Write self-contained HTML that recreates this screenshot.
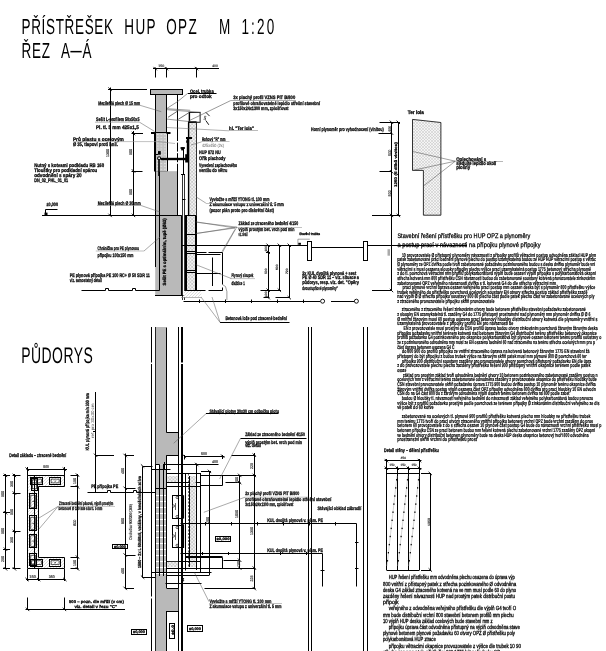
<!DOCTYPE html>
<html><head><meta charset="utf-8"><style>
html,body{margin:0;padding:0;background:#fff;}
svg{display:block;will-change:transform;font-family:"Liberation Sans",sans-serif;-webkit-font-smoothing:antialiased;}
text{text-rendering:geometricPrecision;}
</style></head><body>
<svg width="606" height="651" viewBox="0 0 606 651">
<defs>
<pattern id="xh" width="3.4" height="3.4" patternUnits="userSpaceOnUse">
<rect width="3.4" height="3.4" fill="#f3f3f3"/>
<path d="M0,0 L3.4,3.4 M3.4,0 L0,3.4" stroke="#bcbcbc" stroke-width="0.6"/>
</pattern>
<pattern id="xh2" width="3" height="3" patternUnits="userSpaceOnUse">
<rect width="3" height="3" fill="#f4f4f4"/>
<path d="M0,0 L3,3 M3,0 L0,3" stroke="#c4c4c4" stroke-width="0.5"/>
</pattern>
<pattern id="dh" width="3" height="3" patternUnits="userSpaceOnUse">
<rect width="3" height="3" fill="#fff"/>
<path d="M0,3 L3,0" stroke="#bbb" stroke-width="0.5"/>
</pattern>
<pattern id="dots" width="3.6" height="2.9" patternUnits="userSpaceOnUse" x="156" y="133">
<rect width="3.6" height="2.9" fill="#c2c2c2"/>
<rect x="1.2" y="1" width="1.1" height="1" fill="#f4f4f4"/>
</pattern>
</defs>
<text transform="translate(21.5,34.4) scale(0.62,1)" x="0" y="0" font-size="21.8" textLength="147.58" lengthAdjust="spacing">PŘÍSTŘEŠEK</text>
<text transform="translate(124.3,34.4) scale(0.62,1)" x="0" y="0" font-size="21.8" textLength="50.32" lengthAdjust="spacing">HUP</text>
<text transform="translate(166.2,34.4) scale(0.62,1)" x="0" y="0" font-size="21.8" textLength="49.35" lengthAdjust="spacing">OPZ</text>
<text transform="translate(219,34.4) scale(0.62,1)" x="0" y="0" font-size="21.8" textLength="15.48" lengthAdjust="spacing">M</text>
<text transform="translate(241.4,34.4) scale(0.62,1)" x="0" y="0" font-size="21.8" textLength="53.06" lengthAdjust="spacing">1:20</text>
<text transform="translate(21.5,58.2) scale(0.62,1)" x="0" y="0" font-size="21.8" textLength="45.97" lengthAdjust="spacing">ŘEZ</text>
<text transform="translate(60.9,58.2) scale(0.62,1)" x="0" y="0" font-size="21.8" textLength="15.16" lengthAdjust="spacing">A</text>
<text transform="translate(82.6,58.2) scale(0.62,1)" x="0" y="0" font-size="21.8" textLength="15.16" lengthAdjust="spacing">Á</text>
<rect x="70.4" y="50.9" width="11.3" height="1.5" fill="#000"/>
<text transform="translate(21.2,362.7) scale(0.62,1)" x="0" y="0" font-size="22.5" textLength="115.48" lengthAdjust="spacing">PŮDORYS</text>
<line x1="153.0" y1="68.5" x2="219.0" y2="68.5" stroke="#000" stroke-width="1" />
<line x1="155.5" y1="67.5" x2="155.5" y2="77.5" stroke="#000" stroke-width="1" />
<line x1="153.5" y1="66.89999999999999" x2="156.89999999999998" y2="70.3" stroke="#000" stroke-width="0.9" />
<line x1="166.5" y1="67.5" x2="166.5" y2="77.5" stroke="#000" stroke-width="1" />
<line x1="164.70000000000002" y1="66.89999999999999" x2="168.1" y2="70.3" stroke="#000" stroke-width="0.9" />
<line x1="196.5" y1="67.5" x2="196.5" y2="77.5" stroke="#000" stroke-width="1" />
<line x1="194.8" y1="66.89999999999999" x2="198.2" y2="70.3" stroke="#000" stroke-width="0.9" />
<text x="158.3" y="67.2" font-size="3.6" textLength="5.9" lengthAdjust="spacingAndGlyphs" fill="#333"  stroke="#333" stroke-width="0.18">150</text>
<text x="212.3" y="67.2" font-size="3.6" textLength="5.4" lengthAdjust="spacingAndGlyphs" fill="#333"  stroke="#333" stroke-width="0.18">400</text>
<line x1="110.5" y1="87.5" x2="110.5" y2="215.5" stroke="#000" stroke-width="1" />
<line x1="108.0" y1="89.5" x2="147.0" y2="89.5" stroke="#000" stroke-width="1" />
<line x1="108.39999999999999" y1="87.5" x2="111.8" y2="90.9" stroke="#000" stroke-width="0.9" />
<line x1="108.39999999999999" y1="213.70000000000002" x2="111.8" y2="217.1" stroke="#000" stroke-width="0.9" />
<text x="109" y="157" font-size="3.8" textLength="8" lengthAdjust="spacingAndGlyphs" transform="rotate(-90 109 157)" fill="#333"  stroke="#333" stroke-width="0.18">1300</text>
<line x1="133.5" y1="131.0" x2="133.5" y2="215.5" stroke="#000" stroke-width="1" />
<line x1="131.5" y1="133.5" x2="143.0" y2="133.5" stroke="#000" stroke-width="1" />
<line x1="131.5" y1="171.5" x2="142.5" y2="171.5" stroke="#000" stroke-width="1" />
<line x1="131.8" y1="131.8" x2="135.2" y2="135.2" stroke="#000" stroke-width="0.9" />
<line x1="131.8" y1="169.3" x2="135.2" y2="172.7" stroke="#000" stroke-width="0.9" />
<line x1="131.8" y1="213.70000000000002" x2="135.2" y2="217.1" stroke="#000" stroke-width="0.9" />
<text x="132" y="155" font-size="3.8" textLength="6" lengthAdjust="spacingAndGlyphs" transform="rotate(-90 132 155)" fill="#333"  stroke="#333" stroke-width="0.18">500</text>
<text x="132" y="195" font-size="3.8" textLength="6" lengthAdjust="spacingAndGlyphs" transform="rotate(-90 132 195)" fill="#333"  stroke="#333" stroke-width="0.18">500</text>
<line x1="42.0" y1="215.5" x2="181.5" y2="215.5" stroke="#000" stroke-width="1" />
<polyline points="45.5,214.5 45.5,209.5 57.5,209.5" fill="none" stroke="#000" stroke-width="1" />
<text x="46.5" y="205.6" font-size="5.0" textLength="11.5" lengthAdjust="spacingAndGlyphs" font-weight="bold" fill="#000"  stroke="#000" stroke-width="0.26">±0,000</text>
<rect x="44.5" y="212.6" width="3.0" height="2.4000000000000057" fill="#000"/>
<rect x="150.5" y="89.5" width="32.0" height="5.0" fill="#b9b9b9" stroke="#000" stroke-width="1" />
<rect x="155.5" y="94.5" width="11.0" height="38.0" fill="#b9b9b9" stroke="#000" stroke-width="1" />
<line x1="151.0" y1="133" x2="170.5" y2="133" stroke="#000" stroke-width="2" />
<rect x="156" y="133" width="10.5" height="38" fill="url(#dots)"/>
<rect x="155.5" y="132.5" width="12.0" height="39.0" fill="none" stroke="#000" stroke-width="1" />
<line x1="155" y1="132.5" x2="155" y2="171.5" stroke="#000" stroke-width="2" />
<rect x="155.5" y="171.2" width="22.099999999999994" height="44.20000000000002" fill="#b9b9b9"/>
<rect x="155.2" y="215.4" width="25.80000000000001" height="80.1" fill="#b9b9b9"/>
<line x1="155.5" y1="171.0" x2="155.5" y2="267.0" stroke="#000" stroke-width="1" />
<line x1="155.5" y1="215.5" x2="181.5" y2="215.5" stroke="#000" stroke-width="1" />
<line x1="181.5" y1="215.5" x2="181.5" y2="295.5" stroke="#000" stroke-width="1" />
<line x1="177.5" y1="94.5" x2="177.5" y2="132.0" stroke="#000" stroke-width="1" />
<line x1="177.5" y1="132.0" x2="177.5" y2="171.0" stroke="#000" stroke-width="1" stroke-dasharray="9,1.6"/>
<line x1="177.5" y1="171.0" x2="177.5" y2="215.5" stroke="#000" stroke-width="1" />
<line x1="159.5" y1="172.0" x2="159.5" y2="290.5" stroke="#000" stroke-width="1" />
<line x1="161.0" y1="159" x2="191.5" y2="159" stroke="#000" stroke-width="2.4" />
<rect x="158" y="151.1" width="2.8000000000000114" height="3.5999999999999943" fill="#000"/>
<line x1="156.0" y1="154.5" x2="158.0" y2="154.5" stroke="#000" stroke-width="1" />
<line x1="159" y1="158.5" x2="159" y2="176.0" stroke="#000" stroke-width="1.6" />
<circle cx="159.1" cy="158.3" r="1.5" fill="#fff" stroke="#000" stroke-width="1.1"/>
<line x1="182.0" y1="199.5" x2="185.5" y2="199.5" stroke="#000" stroke-width="1" />
<rect x="188.8" y="122.4" width="7.6" height="93" fill="url(#xh)" stroke="#000" stroke-width="0.8" />
<line x1="188.5" y1="122.5" x2="188.5" y2="215.5" stroke="#000" stroke-width="1.2" />
<line x1="188.0" y1="122" x2="196.5" y2="122" stroke="#000" stroke-width="1.6" />
<rect x="185.2" y="154.2" width="3.1000000000000227" height="8.300000000000011" fill="#000"/>
<line x1="187.5" y1="137.5" x2="187.5" y2="158.0" stroke="#000" stroke-width="1.4" />
<line x1="186.0" y1="138" x2="192.0" y2="138" stroke="#000" stroke-width="2" />
<rect x="186.2" y="140.4" width="1.4000000000000057" height="2.4000000000000057" fill="#000"/>
<line x1="180.5" y1="148" x2="185.0" y2="148" stroke="#000" stroke-width="1.6" />
<rect x="181.2" y="147.3" width="2.8000000000000114" height="3.0999999999999943" fill="#000"/>
<line x1="183.5" y1="148.0" x2="183.5" y2="175.0" stroke="#000" stroke-width="1" />
<line x1="181.0" y1="174.5" x2="185.0" y2="174.5" stroke="#000" stroke-width="1" />
<rect x="189.2" y="112.4" width="10.9" height="9.9" fill="none" stroke="#000" stroke-width="0.9" />
<line x1="189.5" y1="112.5" x2="189.5" y2="122.5" stroke="#000" stroke-width="1.2" />
<line x1="167.1" y1="109.7" x2="201" y2="112.4" stroke="#555" stroke-width="0.6" />
<line x1="167.1" y1="108.7" x2="190.2" y2="110.3" stroke="#555" stroke-width="0.6" />
<line x1="167.1" y1="119.1" x2="189.4" y2="121.6" stroke="#555" stroke-width="0.6" />
<line x1="189.4" y1="121.6" x2="200.1" y2="122.3" stroke="#555" stroke-width="0.6" />
<line x1="168" y1="117.3" x2="177.4" y2="111.2" stroke="#333" stroke-width="0.7" />
<line x1="178.3" y1="119.3" x2="189.4" y2="112.4" stroke="#333" stroke-width="0.7" />
<line x1="167.1" y1="108.3" x2="177.4" y2="101.7" stroke="#555" stroke-width="0.6" />
<line x1="177.4" y1="101.7" x2="187.9" y2="93.2" stroke="#555" stroke-width="0.6" />
<line x1="189.5" y1="120.5" x2="230.8" y2="100.5" stroke="#555" stroke-width="0.6" />
<line x1="205.9" y1="112.4" x2="209.6" y2="116.1" stroke="#000" stroke-width="0.9" />
<line x1="205.9" y1="120.6" x2="208.8" y2="124.8" stroke="#000" stroke-width="0.9" />
<text x="205.5" y="120.5" font-size="2.8" textLength="4.5" lengthAdjust="spacingAndGlyphs" transform="rotate(-80 205.5 120.5)" fill="#555"  stroke="#333" stroke-width="0.18">120</text>
<line x1="188.0" y1="93.5" x2="216.5" y2="93.5" stroke="#000" stroke-width="1" />
<text x="189.9" y="92.7" font-size="5.0" textLength="23.8" lengthAdjust="spacingAndGlyphs" font-weight="bold" fill="#000"  stroke="#000" stroke-width="0.26">Ocel. trubka</text>
<text x="189.9" y="98.4" font-size="5.0" textLength="21.8" lengthAdjust="spacingAndGlyphs" font-weight="bold" fill="#000"  stroke="#000" stroke-width="0.26">pro odtok</text>
<text x="98.2" y="104.6" font-size="5.2" textLength="42" lengthAdjust="spacingAndGlyphs" font-weight="bold" fill="#000"  stroke="#000" stroke-width="0.26">Mezilehlá plech Ø 15 mm</text>
<line x1="98" y1="105.3" x2="140" y2="105.3" stroke="#888" stroke-width="0.6" />
<line x1="140" y1="105.3" x2="161.3" y2="111.7" stroke="#555" stroke-width="0.5" />
<text x="96" y="120.6" font-size="5.2" textLength="43.5" lengthAdjust="spacingAndGlyphs" font-weight="bold" fill="#000"  stroke="#000" stroke-width="0.26">Sešit L-profilem 50x50x5</text>
<line x1="95" y1="122.2" x2="139.5" y2="122.2" stroke="#888" stroke-width="0.6" />
<line x1="139.5" y1="122.2" x2="154.7" y2="131.5" stroke="#555" stroke-width="0.5" />
<text x="96" y="128.6" font-size="5.2" textLength="42.8" lengthAdjust="spacingAndGlyphs" font-weight="bold" fill="#000"  stroke="#000" stroke-width="0.26">Pl. tl. 5 mm 425x1,5</text>
<text x="72.9" y="140.9" font-size="5.2" textLength="51" lengthAdjust="spacingAndGlyphs" font-weight="bold" fill="#000"  stroke="#000" stroke-width="0.26">Prů plastu s ocelovým</text>
<text x="72.9" y="145.6" font-size="5.2" textLength="45" lengthAdjust="spacingAndGlyphs" font-weight="bold" fill="#000"  stroke="#000" stroke-width="0.26">Ø 35, tlapoví proti hnil.</text>
<line x1="72.9" y1="141.6" x2="158" y2="141.6" stroke="#999" stroke-width="0.6" />
<line x1="158" y1="141.6" x2="175" y2="143.5" stroke="#777" stroke-width="0.5" />
<text x="34.2" y="167.4" font-size="5.2" textLength="70" lengthAdjust="spacingAndGlyphs" font-weight="bold" fill="#000"  stroke="#000" stroke-width="0.26">Nutný s kotvami podkladu RB 160</text>
<text x="34.2" y="172.2" font-size="5.2" textLength="63" lengthAdjust="spacingAndGlyphs" font-weight="bold" fill="#000"  stroke="#000" stroke-width="0.26">Tlouštky pro podkladní spárou</text>
<text x="34.2" y="177.1" font-size="5.2" textLength="47.5" lengthAdjust="spacingAndGlyphs" font-weight="bold" fill="#000"  stroke="#000" stroke-width="0.26">odvodnění s spáry 20</text>
<text x="34.2" y="182.0" font-size="5.2" textLength="34" lengthAdjust="spacingAndGlyphs" font-weight="bold" fill="#000"  stroke="#000" stroke-width="0.26">DN_02_PHL_01_01</text>
<text x="97.8" y="204.6" font-size="5.2" textLength="43" lengthAdjust="spacingAndGlyphs" font-weight="bold" fill="#000"  stroke="#000" stroke-width="0.26">Mezilehlá plech Ø 30 mm</text>
<line x1="97" y1="205.5" x2="141" y2="205.5" stroke="#888" stroke-width="0.6" />
<line x1="141" y1="205.5" x2="160" y2="212" stroke="#555" stroke-width="0.5" />
<text x="233.3" y="98.9" font-size="5.0" textLength="61.9" lengthAdjust="spacingAndGlyphs" font-weight="bold" fill="#000"  stroke="#000" stroke-width="0.26">3x plachý profil VZNS PIT B/800</text>
<text x="233.3" y="104.8" font-size="5.0" textLength="86.7" lengthAdjust="spacingAndGlyphs" font-weight="bold" fill="#000"  stroke="#000" stroke-width="0.26">profilové ohraňovatelné lepidlo střešní stavební</text>
<text x="233.3" y="109.6" font-size="5.0" textLength="55.3" lengthAdjust="spacingAndGlyphs" font-weight="bold" fill="#000"  stroke="#000" stroke-width="0.26">3x150x24x1300 mm, zplošťovat</text>
<line x1="231.0" y1="100.5" x2="296.0" y2="100.5" stroke="#777" stroke-width="0.6" />
<text x="229.1" y="130.1" font-size="5.0" textLength="24.8" lengthAdjust="spacingAndGlyphs" font-weight="bold" fill="#000"  stroke="#000" stroke-width="0.26">hl. "Ter lola"</text>
<line x1="229.0" y1="130.5" x2="258.0" y2="130.5" stroke="#aaa" stroke-width="0.8" />
<line x1="229" y1="130.8" x2="167" y2="127.5" stroke="#666" stroke-width="0.5" />
<text x="201.9" y="140.7" font-size="5.2" textLength="23.6" lengthAdjust="spacingAndGlyphs" font-weight="bold" fill="#000"  stroke="#000" stroke-width="0.26">Rohový "R" mm</text>
<text x="201.9" y="146.5" font-size="4.6" textLength="22" lengthAdjust="spacingAndGlyphs" fill="#555" >425x450 (2x)</text>
<line x1="201.5" y1="141.5" x2="229.5" y2="141.5" stroke="#999" stroke-width="0.6" />
<line x1="201.6" y1="141.9" x2="191" y2="145" stroke="#555" stroke-width="0.5" />
<text x="199.1" y="153.9" font-size="5.2" textLength="21.5" lengthAdjust="spacingAndGlyphs" font-weight="bold" fill="#000"  stroke="#000" stroke-width="0.26">HUP 872 NU</text>
<text x="199.1" y="159.7" font-size="5.2" textLength="26.4" lengthAdjust="spacingAndGlyphs" font-weight="bold" fill="#000"  stroke="#000" stroke-width="0.26">Ořík plachody</text>
<text x="199.1" y="167.1" font-size="5.2" textLength="38" lengthAdjust="spacingAndGlyphs" font-weight="bold" fill="#000"  stroke="#000" stroke-width="0.26">Vyvedení zaplachového</text>
<text x="199.1" y="172.1" font-size="5.2" textLength="28.1" lengthAdjust="spacingAndGlyphs" font-weight="bold" fill="#000"  stroke="#000" stroke-width="0.26">ventilu do větru</text>
<text x="209.5" y="201.3" font-size="5.2" textLength="59.9" lengthAdjust="spacingAndGlyphs" font-weight="bold" fill="#000"  stroke="#000" stroke-width="0.26">Vyvložte s mříží YTONG tl. 100 mm</text>
<text x="209.5" y="206.4" font-size="5.2" textLength="74.4" lengthAdjust="spacingAndGlyphs" font-weight="bold" fill="#000"  stroke="#000" stroke-width="0.26">Z akumulace vstupu z univerzální tl. 5 mm</text>
<text x="209.5" y="211.9" font-size="5.2" textLength="64.5" lengthAdjust="spacingAndGlyphs" font-weight="bold" fill="#000"  stroke="#000" stroke-width="0.26">(pozor plán proto pro diskrétní část)</text>
<line x1="206.0" y1="203.5" x2="276.0" y2="203.5" stroke="#999" stroke-width="0.6" />
<line x1="205.9" y1="203.1" x2="196" y2="196.8" stroke="#555" stroke-width="0.5" />
<text x="238.6" y="225.3" font-size="5.2" textLength="59.5" lengthAdjust="spacingAndGlyphs" font-weight="bold" fill="#000"  stroke="#000" stroke-width="0.26">Základ ze ztraceného bednění 4/150</text>
<text x="238.6" y="231.3" font-size="5.2" textLength="55.9" lengthAdjust="spacingAndGlyphs" font-weight="bold" fill="#000"  stroke="#000" stroke-width="0.26">výplň prostým bet. vrch pod min</text>
<text x="238.6" y="235.8" font-size="5.2" textLength="9" lengthAdjust="spacingAndGlyphs" font-weight="bold" fill="#000"  stroke="#000" stroke-width="0.26">viz. detail</text>
<line x1="236.5" y1="227.5" x2="302.0" y2="227.5" stroke="#999" stroke-width="0.6" />
<line x1="236.7" y1="227.1" x2="196" y2="222.2" stroke="#555" stroke-width="0.5" />
<line x1="236.7" y1="227.1" x2="196" y2="233.6" stroke="#555" stroke-width="0.5" />
<line x1="236.7" y1="227.1" x2="222.5" y2="252.2" stroke="#555" stroke-width="0.5" />
<polyline points="196.5,252.5 206.5,252.5" fill="none" stroke="#000" stroke-width="1" />
<polyline points="208.5,252.5 222.5,252.5 222.5,284.5" fill="none" stroke="#000" stroke-width="1" />
<polyline points="222.5,287.5 222.5,290.5 208.5,290.5" fill="none" stroke="#000" stroke-width="1" />
<line x1="185.5" y1="290.5" x2="205.5" y2="290.5" stroke="#000" stroke-width="1" />
<line x1="189.0" y1="254.5" x2="220.5" y2="254.5" stroke="#000" stroke-width="1" />
<line x1="189.0" y1="273.5" x2="220.5" y2="273.5" stroke="#000" stroke-width="1" />
<line x1="212.5" y1="257.5" x2="212.5" y2="286.0" stroke="#000" stroke-width="1" />
<polyline points="222.7,284.7 225.5,286.5 226.9,291.6 226.9,300" fill="none" stroke="#555" stroke-width="0.6" />
<rect x="185.5" y="215.5" width="10.0" height="75.0" fill="url(#xh)" stroke="#000" stroke-width="1" />
<line x1="186" y1="215.5" x2="186" y2="290.0" stroke="#000" stroke-width="2" />
<line x1="185.5" y1="234.5" x2="197.0" y2="234.5" stroke="#000" stroke-width="1" />
<line x1="185.5" y1="245.5" x2="197.0" y2="245.5" stroke="#000" stroke-width="1" />
<line x1="185.5" y1="251.5" x2="197.0" y2="251.5" stroke="#000" stroke-width="1" />
<line x1="185.5" y1="253.5" x2="197.0" y2="253.5" stroke="#000" stroke-width="1" />
<line x1="185.5" y1="270.5" x2="197.0" y2="270.5" stroke="#000" stroke-width="1" />
<line x1="185.5" y1="272.5" x2="197.0" y2="272.5" stroke="#000" stroke-width="1" />
<line x1="182.5" y1="175.0" x2="182.5" y2="300.0" stroke="#000" stroke-width="0.8" />
<line x1="184.5" y1="175.0" x2="184.5" y2="300.0" stroke="#000" stroke-width="0.8" />
<line x1="196.5" y1="215.5" x2="196.5" y2="290.0" stroke="#000" stroke-width="1" />
<line x1="181.5" y1="245.5" x2="307.5" y2="245.5" stroke="#000" stroke-width="1" />
<line x1="311.5" y1="247.5" x2="363.0" y2="247.5" stroke="#000" stroke-width="1" />
<line x1="367.5" y1="245.5" x2="467.0" y2="245.5" stroke="#000" stroke-width="1" />
<rect x="184" y="291" width="17.30000000000001" height="6.100000000000023" fill="url(#dh)"/>
<line x1="181.0" y1="297.5" x2="201.5" y2="297.5" stroke="#888" stroke-width="0.6" />
<line x1="235" y1="228" x2="195.7" y2="221.8" stroke="#555" stroke-width="0.5" />
<line x1="235" y1="228" x2="195.7" y2="233.5" stroke="#555" stroke-width="0.5" />
<line x1="235" y1="229.4" x2="222" y2="251.5" stroke="#555" stroke-width="0.5" />
<line x1="231.5" y1="278.6" x2="195.7" y2="264.6" stroke="#555" stroke-width="0.5" />
<text x="231.5" y="277.4" font-size="5.2" textLength="21.8" lengthAdjust="spacingAndGlyphs" font-weight="bold" fill="#000"  stroke="#000" stroke-width="0.26">Plynový sloupek</text>
<text x="231.5" y="284.6" font-size="5.2" textLength="13.2" lengthAdjust="spacingAndGlyphs" font-weight="bold" fill="#000"  stroke="#000" stroke-width="0.26">dlaždice 1</text>
<line x1="230" y1="278.6" x2="255" y2="278.6" stroke="#999" stroke-width="0.6" />
<polyline points="81.5,290.5 105.5,290.5 105.5,288.5 108.5,288.5 108.5,290.5 132.5,290.5 132.5,288.5 135.5,288.5 135.5,290.5 159.5,290.5" fill="none" stroke="#000" stroke-width="1" />
<line x1="155.0" y1="295.5" x2="183.5" y2="295.5" stroke="#000" stroke-width="1" />
<text x="97.5" y="250.1" font-size="5.2" textLength="41.5" lengthAdjust="spacingAndGlyphs" font-weight="bold" fill="#000"  stroke="#000" stroke-width="0.26">Chránička pro PE plynovou</text>
<text x="97.5" y="256.9" font-size="5.2" textLength="36" lengthAdjust="spacingAndGlyphs" font-weight="bold" fill="#000"  stroke="#000" stroke-width="0.26">přípojku 100x150 mm</text>
<line x1="95.8" y1="251" x2="144" y2="251" stroke="#999" stroke-width="0.6" />
<line x1="144" y1="251" x2="160" y2="237" stroke="#555" stroke-width="0.5" />
<text x="69.8" y="276.8" font-size="5.2" textLength="80" lengthAdjust="spacingAndGlyphs" font-weight="bold" fill="#000"  stroke="#000" stroke-width="0.26">PE plynová přípojka PE 100 RC+ Ø 50 SDR 11</text>
<text x="69.8" y="282.4" font-size="5.2" textLength="32" lengthAdjust="spacingAndGlyphs" font-weight="bold" fill="#000"  stroke="#000" stroke-width="0.26">viz. samostatný detail</text>
<text x="166.2" y="285.4" font-size="4.6" textLength="67" lengthAdjust="spacingAndGlyphs" font-weight="bold" transform="rotate(-90 166.2 285.4)" fill="#000"  stroke="#000" stroke-width="0.26">Sešit PE s optimálním, tupě (Ø63)</text>
<line x1="183.5" y1="301.5" x2="320.5" y2="301.5" stroke="#000" stroke-width="1" />
<line x1="199.5" y1="299.5" x2="199.5" y2="303.0" stroke="#000" stroke-width="1" />
<line x1="225.5" y1="299.5" x2="225.5" y2="303.0" stroke="#000" stroke-width="1" />
<line x1="251.5" y1="299.5" x2="251.5" y2="303.0" stroke="#000" stroke-width="1" />
<line x1="277.5" y1="299.5" x2="277.5" y2="303.0" stroke="#000" stroke-width="1" />
<line x1="303.5" y1="299.5" x2="303.5" y2="303.0" stroke="#000" stroke-width="1" />
<circle cx="322.6" cy="301.2" r="2" fill="#fff" stroke="#000" stroke-width="0.9"/>
<line x1="331.0" y1="301.5" x2="354.5" y2="301.5" stroke="#000" stroke-width="1" />
<circle cx="356.4" cy="301.2" r="2" fill="#fff" stroke="#000" stroke-width="0.9"/>
<text x="225.4" y="319.9" font-size="5.2" textLength="61.6" lengthAdjust="spacingAndGlyphs" font-weight="bold" fill="#000"  stroke="#000" stroke-width="0.26">Betonová lože pod ztracené bednění</text>
<line x1="220.0" y1="322.5" x2="289.5" y2="322.5" stroke="#000" stroke-width="1" />
<line x1="220" y1="322.3" x2="201" y2="297" stroke="#555" stroke-width="0.5" />
<line x1="220" y1="322.3" x2="212" y2="297" stroke="#555" stroke-width="0.5" />
<line x1="268.5" y1="245.5" x2="268.5" y2="297.5" stroke="#000" stroke-width="1" />
<line x1="279.5" y1="245.5" x2="279.5" y2="290.0" stroke="#000" stroke-width="1" />
<line x1="289.5" y1="245.5" x2="289.5" y2="297.5" stroke="#000" stroke-width="1" />
<line x1="266.0" y1="252.5" x2="270.0" y2="252.5" stroke="#000" stroke-width="1" />
<line x1="260.5" y1="290.5" x2="281.0" y2="290.5" stroke="#000" stroke-width="1" />
<line x1="263.5" y1="297.5" x2="269.5" y2="297.5" stroke="#000" stroke-width="1" />
<line x1="275.5" y1="297.5" x2="290.0" y2="297.5" stroke="#000" stroke-width="1" />
<line x1="266.5" y1="243.60000000000002" x2="269.9" y2="247.0" stroke="#000" stroke-width="0.9" />
<line x1="266.5" y1="250.60000000000002" x2="269.9" y2="254.0" stroke="#000" stroke-width="0.9" />
<line x1="266.5" y1="288.5" x2="269.9" y2="291.9" stroke="#000" stroke-width="0.9" />
<line x1="266.5" y1="296.0" x2="269.9" y2="299.4" stroke="#000" stroke-width="0.9" />
<line x1="277.7" y1="243.60000000000002" x2="281.09999999999997" y2="247.0" stroke="#000" stroke-width="0.9" />
<line x1="277.7" y1="288.5" x2="281.09999999999997" y2="291.9" stroke="#000" stroke-width="0.9" />
<line x1="287.6" y1="243.60000000000002" x2="291.0" y2="247.0" stroke="#000" stroke-width="0.9" />
<line x1="287.6" y1="296.0" x2="291.0" y2="299.4" stroke="#000" stroke-width="0.9" />
<text x="267" y="251.5" font-size="3.2" textLength="5.5" lengthAdjust="spacingAndGlyphs" transform="rotate(-90 267 251.5)" fill="#333"  stroke="#333" stroke-width="0.18">100</text>
<text x="267" y="274" font-size="3.2" textLength="5.5" lengthAdjust="spacingAndGlyphs" transform="rotate(-90 267 274)" fill="#333"  stroke="#333" stroke-width="0.18">500</text>
<text x="267" y="297" font-size="3.2" textLength="5.5" lengthAdjust="spacingAndGlyphs" transform="rotate(-90 267 297)" fill="#333"  stroke="#333" stroke-width="0.18">100</text>
<text x="278" y="270" font-size="3.2" textLength="5.5" lengthAdjust="spacingAndGlyphs" transform="rotate(-90 278 270)" fill="#333"  stroke="#333" stroke-width="0.18">600</text>
<text x="288" y="274" font-size="3.2" textLength="5.5" lengthAdjust="spacingAndGlyphs" transform="rotate(-90 288 274)" fill="#333"  stroke="#333" stroke-width="0.18">720</text>
<rect x="307.5" y="241.5" width="4.0" height="19.0" fill="#fff" stroke="#000" stroke-width="1" />
<rect x="363.5" y="241.5" width="4.0" height="19.0" fill="#fff" stroke="#000" stroke-width="1" />
<text x="299.2" y="234.9" font-size="3.6" textLength="20.8" lengthAdjust="spacingAndGlyphs" font-weight="bold" fill="#000"  stroke="#000" stroke-width="0.26">Stavěcí trubka</text>
<polyline points="297.9,245 297.9,239.2 309.8,239.2" fill="none" stroke="#666" stroke-width="0.6" />
<rect x="298.3" y="242.8" width="2.599999999999966" height="2.0" fill="#000"/>
<text x="302.2" y="274.9" font-size="5.2" textLength="54" lengthAdjust="spacingAndGlyphs" font-weight="bold" fill="#000"  stroke="#000" stroke-width="0.26">2x KUL dvojitá plynová + sest</text>
<text x="302.2" y="279.4" font-size="5.2" textLength="56.8" lengthAdjust="spacingAndGlyphs" font-weight="bold" fill="#000"  stroke="#000" stroke-width="0.26">PE Ø 40 SDR 11 – viz. situace a</text>
<text x="302.2" y="284.2" font-size="5.2" textLength="56.8" lengthAdjust="spacingAndGlyphs" font-weight="bold" fill="#000"  stroke="#000" stroke-width="0.26">půdorys, resp. viz. det. "Opěry</text>
<text x="302.2" y="289.5" font-size="5.2" textLength="35.7" lengthAdjust="spacingAndGlyphs" font-weight="bold" fill="#000"  stroke="#000" stroke-width="0.26">dvoustupňové plynoměry"</text>
<line x1="391.5" y1="122.0" x2="391.5" y2="290.5" stroke="#000" stroke-width="1" />
<line x1="398.5" y1="122.0" x2="398.5" y2="215.5" stroke="#000" stroke-width="1" />
<line x1="379.5" y1="122.5" x2="400.0" y2="122.5" stroke="#000" stroke-width="1" />
<line x1="378.5" y1="133.5" x2="392.0" y2="133.5" stroke="#000" stroke-width="1" />
<line x1="379.5" y1="171.5" x2="392.0" y2="171.5" stroke="#000" stroke-width="1" />
<line x1="372.0" y1="215.5" x2="400.5" y2="215.5" stroke="#000" stroke-width="1" />
<line x1="372.0" y1="290.5" x2="391.5" y2="290.5" stroke="#000" stroke-width="1" />
<line x1="389.8" y1="120.6" x2="393.2" y2="124.0" stroke="#000" stroke-width="0.9" />
<line x1="389.8" y1="131.4" x2="393.2" y2="134.79999999999998" stroke="#000" stroke-width="0.9" />
<line x1="389.8" y1="170.0" x2="393.2" y2="173.39999999999998" stroke="#000" stroke-width="0.9" />
<line x1="389.8" y1="213.70000000000002" x2="393.2" y2="217.1" stroke="#000" stroke-width="0.9" />
<line x1="396.6" y1="120.6" x2="400.0" y2="124.0" stroke="#000" stroke-width="0.9" />
<line x1="396.6" y1="213.70000000000002" x2="400.0" y2="217.1" stroke="#000" stroke-width="0.9" />
<line x1="389.8" y1="288.8" x2="393.2" y2="292.2" stroke="#000" stroke-width="0.9" />
<text x="311" y="130.8" font-size="5.2" textLength="72.6" lengthAdjust="spacingAndGlyphs" font-weight="bold" fill="#000"  stroke="#000" stroke-width="0.26">Horní plynoměr pro vyhodnocení (vlnitou)</text>
<text x="390.5" y="131.5" font-size="3.8" textLength="5.5" lengthAdjust="spacingAndGlyphs" transform="rotate(-90 390.5 131.5)" fill="#333"  stroke="#333" stroke-width="0.18">150</text>
<text x="390.5" y="156" font-size="3.8" textLength="6.5" lengthAdjust="spacingAndGlyphs" transform="rotate(-90 390.5 156)" fill="#333"  stroke="#333" stroke-width="0.18">500</text>
<text x="390.5" y="196.5" font-size="3.8" textLength="6.5" lengthAdjust="spacingAndGlyphs" transform="rotate(-90 390.5 196.5)" fill="#333"  stroke="#333" stroke-width="0.18">500</text>
<text x="396.6" y="187" font-size="3.8" textLength="45" lengthAdjust="spacingAndGlyphs" font-weight="bold" transform="rotate(-90 396.6 187)" fill="#000"  stroke="#000" stroke-width="0.26">1250 (5 dílků vlnitou)</text>
<rect x="387.5" y="249.2" width="2.5" height="6.5" fill="#aaa"/>
<polygon points="412.5,119.4 440.9,122.5 440.9,215.2 423.4,215.2 423.4,170.4 412.5,170.4" fill="url(#xh2)" stroke="#000" stroke-width="0.8" />
<text x="407.7" y="114.1" font-size="5.2" textLength="16.3" lengthAdjust="spacingAndGlyphs" font-weight="bold" fill="#000"  stroke="#000" stroke-width="0.26">Ter lola</text>
<line x1="455.3" y1="161.2" x2="412.5" y2="151.4" stroke="#444" stroke-width="0.5" />
<line x1="455.3" y1="161.2" x2="412.5" y2="170.4" stroke="#444" stroke-width="0.5" />
<line x1="455.3" y1="161.2" x2="423.4" y2="186.1" stroke="#444" stroke-width="0.5" />
<line x1="455.5" y1="161.5" x2="503.0" y2="161.5" stroke="#888" stroke-width="0.6" />
<text x="456.2" y="160.9" font-size="5.2" textLength="30" lengthAdjust="spacingAndGlyphs" font-weight="bold" fill="#000"  stroke="#000" stroke-width="0.26">Oplechování s</text>
<text x="456.2" y="164.9" font-size="5.2" textLength="40" lengthAdjust="spacingAndGlyphs" font-weight="bold" fill="#000"  stroke="#000" stroke-width="0.26">sledujte lepidlo okolí</text>
<text x="456.2" y="168.9" font-size="5.2" textLength="14" lengthAdjust="spacingAndGlyphs" font-weight="bold" fill="#000"  stroke="#000" stroke-width="0.26">plošný</text>
<line x1="151.5" y1="327.0" x2="151.5" y2="362.5" stroke="#000" stroke-width="1" />
<line x1="151.5" y1="364.0" x2="151.5" y2="596.5" stroke="#000" stroke-width="1" />
<line x1="151.5" y1="598.5" x2="151.5" y2="651.0" stroke="#000" stroke-width="1" />
<line x1="155.5" y1="327.0" x2="155.5" y2="651.0" stroke="#000" stroke-width="1" />
<rect x="155.8" y="327" width="10.399999999999977" height="324" fill="#b9b9b9"/>
<rect x="166" y="432.3" width="12.199999999999989" height="23.099999999999966" fill="#b9b9b9"/>
<polyline points="166.5,327.5 166.5,432.5 178.5,432.5" fill="none" stroke="#000" stroke-width="1" />
<polyline points="178.5,455.5 166.5,455.5 166.5,464.5" fill="none" stroke="#000" stroke-width="1" />
<line x1="178.5" y1="327.0" x2="178.5" y2="651.0" stroke="#000" stroke-width="1" />
<line x1="182" y1="327.0" x2="182" y2="362.5" stroke="#000" stroke-width="2" />
<line x1="182" y1="364.0" x2="182" y2="651.0" stroke="#000" stroke-width="2" />
<rect x="166" y="588.2" width="12.199999999999989" height="23.399999999999977" fill="#b9b9b9"/>
<rect x="166.5" y="611.5" width="12.0" height="45.0" fill="#fff" stroke="#000" stroke-width="1" />
<line x1="166.5" y1="588.5" x2="178.0" y2="588.5" stroke="#000" stroke-width="1" />
<rect x="169.5" y="623.5" width="5.0" height="15.0" fill="#fff" stroke="#000" stroke-width="1" />
<text x="173.5" y="635" font-size="3.6" textLength="10" lengthAdjust="spacingAndGlyphs" font-weight="bold" transform="rotate(-90 173.5 635)" fill="#000"  stroke="#000" stroke-width="0.26">±0,0</text>
<rect x="187.5" y="625.5" width="15.0" height="6.0" fill="#fff" stroke="#000" stroke-width="1" />
<text x="189" y="629.8" font-size="3.8" textLength="12" lengthAdjust="spacingAndGlyphs" font-weight="bold" fill="#000"  stroke="#000" stroke-width="0.26">±0,000</text>
<rect x="131.5" y="629.5" width="15.0" height="5.0" fill="#fff" stroke="#000" stroke-width="1" />
<text x="133" y="633.3" font-size="3.8" textLength="12" lengthAdjust="spacingAndGlyphs" font-weight="bold" fill="#000"  stroke="#000" stroke-width="0.26">±0,000</text>
<rect x="155.8" y="464.3" width="10.399999999999977" height="111.69999999999999" fill="#fff"/>
<rect x="159.7" y="464.3" width="3.5" height="5.699999999999989" fill="#b9b9b9"/>
<rect x="156" y="470" width="3" height="106" fill="#c0c0c0"/>
<rect x="160" y="470" width="3" height="106" fill="#c0c0c0"/>
<rect x="164" y="470" width="2" height="106" fill="#c0c0c0"/>
<line x1="155.5" y1="464.5" x2="155.5" y2="576.0" stroke="#000" stroke-width="1" />
<line x1="159.5" y1="464.5" x2="159.5" y2="576.0" stroke="#000" stroke-width="1" />
<line x1="163.5" y1="464.5" x2="163.5" y2="576.0" stroke="#000" stroke-width="1" />
<line x1="166.5" y1="464.5" x2="166.5" y2="576.0" stroke="#000" stroke-width="1" />
<line x1="155.5" y1="464.5" x2="159.5" y2="464.5" stroke="#000" stroke-width="1" />
<line x1="163.0" y1="464.5" x2="166.5" y2="464.5" stroke="#000" stroke-width="1" />
<line x1="155.5" y1="488.5" x2="166.5" y2="488.5" stroke="#000" stroke-width="1" />
<line x1="156.0" y1="495.5" x2="159.0" y2="495.5" stroke="#fff" stroke-width="1" />
<line x1="160.0" y1="495.5" x2="163.0" y2="495.5" stroke="#fff" stroke-width="1" />
<line x1="164.0" y1="495.5" x2="166.0" y2="495.5" stroke="#fff" stroke-width="1" />
<line x1="156.0" y1="501.5" x2="159.0" y2="501.5" stroke="#fff" stroke-width="1" />
<line x1="160.0" y1="501.5" x2="163.0" y2="501.5" stroke="#fff" stroke-width="1" />
<line x1="164.0" y1="501.5" x2="166.0" y2="501.5" stroke="#fff" stroke-width="1" />
<line x1="156.0" y1="507.5" x2="159.0" y2="507.5" stroke="#fff" stroke-width="1" />
<line x1="160.0" y1="507.5" x2="163.0" y2="507.5" stroke="#fff" stroke-width="1" />
<line x1="164.0" y1="507.5" x2="166.0" y2="507.5" stroke="#fff" stroke-width="1" />
<line x1="156.0" y1="513.5" x2="159.0" y2="513.5" stroke="#fff" stroke-width="1" />
<line x1="160.0" y1="513.5" x2="163.0" y2="513.5" stroke="#fff" stroke-width="1" />
<line x1="164.0" y1="513.5" x2="166.0" y2="513.5" stroke="#fff" stroke-width="1" />
<line x1="156.0" y1="519.5" x2="159.0" y2="519.5" stroke="#fff" stroke-width="1" />
<line x1="160.0" y1="519.5" x2="163.0" y2="519.5" stroke="#fff" stroke-width="1" />
<line x1="164.0" y1="519.5" x2="166.0" y2="519.5" stroke="#fff" stroke-width="1" />
<line x1="156.0" y1="525.5" x2="159.0" y2="525.5" stroke="#fff" stroke-width="1" />
<line x1="160.0" y1="525.5" x2="163.0" y2="525.5" stroke="#fff" stroke-width="1" />
<line x1="164.0" y1="525.5" x2="166.0" y2="525.5" stroke="#fff" stroke-width="1" />
<line x1="156.0" y1="531.5" x2="159.0" y2="531.5" stroke="#fff" stroke-width="1" />
<line x1="160.0" y1="531.5" x2="163.0" y2="531.5" stroke="#fff" stroke-width="1" />
<line x1="164.0" y1="531.5" x2="166.0" y2="531.5" stroke="#fff" stroke-width="1" />
<line x1="156.0" y1="537.5" x2="159.0" y2="537.5" stroke="#fff" stroke-width="1" />
<line x1="160.0" y1="537.5" x2="163.0" y2="537.5" stroke="#fff" stroke-width="1" />
<line x1="164.0" y1="537.5" x2="166.0" y2="537.5" stroke="#fff" stroke-width="1" />
<line x1="156.0" y1="543.5" x2="159.0" y2="543.5" stroke="#fff" stroke-width="1" />
<line x1="160.0" y1="543.5" x2="163.0" y2="543.5" stroke="#fff" stroke-width="1" />
<line x1="164.0" y1="543.5" x2="166.0" y2="543.5" stroke="#fff" stroke-width="1" />
<line x1="156.0" y1="549.5" x2="159.0" y2="549.5" stroke="#fff" stroke-width="1" />
<line x1="160.0" y1="549.5" x2="163.0" y2="549.5" stroke="#fff" stroke-width="1" />
<line x1="164.0" y1="549.5" x2="166.0" y2="549.5" stroke="#fff" stroke-width="1" />
<line x1="156.0" y1="555.5" x2="159.0" y2="555.5" stroke="#fff" stroke-width="1" />
<line x1="160.0" y1="555.5" x2="163.0" y2="555.5" stroke="#fff" stroke-width="1" />
<line x1="164.0" y1="555.5" x2="166.0" y2="555.5" stroke="#fff" stroke-width="1" />
<line x1="156.0" y1="561.5" x2="159.0" y2="561.5" stroke="#fff" stroke-width="1" />
<line x1="160.0" y1="561.5" x2="163.0" y2="561.5" stroke="#fff" stroke-width="1" />
<line x1="164.0" y1="561.5" x2="166.0" y2="561.5" stroke="#fff" stroke-width="1" />
<line x1="156.0" y1="567.5" x2="159.0" y2="567.5" stroke="#fff" stroke-width="1" />
<line x1="160.0" y1="567.5" x2="163.0" y2="567.5" stroke="#fff" stroke-width="1" />
<line x1="164.0" y1="567.5" x2="166.0" y2="567.5" stroke="#fff" stroke-width="1" />
<line x1="156.0" y1="573.5" x2="159.0" y2="573.5" stroke="#fff" stroke-width="1" />
<line x1="160.0" y1="573.5" x2="163.0" y2="573.5" stroke="#fff" stroke-width="1" />
<line x1="164.0" y1="573.5" x2="166.0" y2="573.5" stroke="#fff" stroke-width="1" />
<polyline points="152.5,466.5 142.5,466.5 142.5,577.5 155.5,577.5" fill="none" stroke="#000" stroke-width="1" />
<line x1="152.0" y1="469.5" x2="170.5" y2="469.5" stroke="#000" stroke-width="1" />
<line x1="164.5" y1="462.0" x2="164.5" y2="470.0" stroke="#000" stroke-width="1" />
<line x1="164.0" y1="464.5" x2="170.0" y2="464.5" stroke="#000" stroke-width="1" />
<line x1="166.5" y1="455.5" x2="166.5" y2="588.0" stroke="#000" stroke-width="1" />
<line x1="166.5" y1="473.5" x2="201.0" y2="473.5" stroke="#000" stroke-width="1" />
<line x1="200.5" y1="475.5" x2="256.0" y2="475.5" stroke="#000" stroke-width="1" />
<rect x="167.3" y="476" width="10.5" height="6" fill="url(#xh)"/>
<line x1="166.5" y1="482.5" x2="201.0" y2="482.5" stroke="#000" stroke-width="1" />
<polyline points="200.5,473.5 200.5,485.5 222.5,485.5 222.5,475.5" fill="none" stroke="#000" stroke-width="1" />
<line x1="225.5" y1="482.5" x2="240.5" y2="482.5" stroke="#000" stroke-width="1" />
<rect x="172.5" y="495.5" width="10.0" height="23.0" fill="none" stroke="#000" stroke-width="1" />
<rect x="172.5" y="525.5" width="10.0" height="22.0" fill="none" stroke="#000" stroke-width="1" />
<rect x="181" y="495.2" width="3.0999999999999943" height="23.400000000000034" fill="#000"/>
<rect x="181" y="524.3" width="3.0999999999999943" height="23.700000000000045" fill="#000"/>
<circle cx="177.1" cy="497.5" r="1.1" fill="#fff" stroke="#000" stroke-width="0.6"/>
<circle cx="177.1" cy="516.5" r="1.1" fill="#fff" stroke="#000" stroke-width="0.6"/>
<circle cx="177.1" cy="527.5" r="1.1" fill="#fff" stroke="#000" stroke-width="0.6"/>
<circle cx="177.1" cy="545.3" r="1.1" fill="#fff" stroke="#000" stroke-width="0.6"/>
<circle cx="173.5" cy="506" r="1.1" fill="#fff" stroke="#000" stroke-width="0.6"/>
<circle cx="173.5" cy="536" r="1.1" fill="#fff" stroke="#000" stroke-width="0.6"/>
<line x1="175.5" y1="503.0" x2="175.5" y2="510.0" stroke="#000" stroke-width="0.6" />
<line x1="175.5" y1="532.0" x2="175.5" y2="540.0" stroke="#000" stroke-width="0.6" />
<rect x="190" y="476" width="5.599999999999994" height="91.20000000000005" fill="url(#xh)"/>
<line x1="185.5" y1="473.5" x2="185.5" y2="570.5" stroke="#000" stroke-width="1" />
<line x1="188.5" y1="473.5" x2="188.5" y2="567.0" stroke="#000" stroke-width="0.6" stroke-dasharray="2,1.5"/>
<line x1="189.5" y1="476.0" x2="189.5" y2="567.0" stroke="#000" stroke-width="1" />
<line x1="196.5" y1="473.5" x2="196.5" y2="570.0" stroke="#000" stroke-width="1" />
<line x1="200.5" y1="473.5" x2="200.5" y2="572.0" stroke="#000" stroke-width="1" />
<line x1="209.5" y1="471.5" x2="209.5" y2="575.5" stroke="#000" stroke-width="1" />
<line x1="166.5" y1="486.5" x2="200.5" y2="486.5" stroke="#000" stroke-width="1" />
<line x1="185.5" y1="556.5" x2="222.5" y2="556.5" stroke="#000" stroke-width="1" />
<line x1="185.5" y1="557.5" x2="222.5" y2="557.5" stroke="#000" stroke-width="1" />
<polyline points="200.5,557.5 200.5,568.5" fill="none" stroke="#000" stroke-width="1" />
<line x1="222.5" y1="557.5" x2="222.5" y2="568.0" stroke="#000" stroke-width="1" />
<line x1="167.0" y1="561.5" x2="200.0" y2="561.5" stroke="#000" stroke-width="1" />
<rect x="167.3" y="561.8" width="10.799999999999983" height="5.400000000000091" fill="url(#xh)"/>
<line x1="166.5" y1="568.5" x2="255.5" y2="568.5" stroke="#000" stroke-width="1" />
<line x1="152.0" y1="572.5" x2="211.5" y2="572.5" stroke="#000" stroke-width="1" />
<line x1="166.5" y1="575.5" x2="209.0" y2="575.5" stroke="#000" stroke-width="1" />
<line x1="165.5" y1="583.5" x2="201.5" y2="583.5" stroke="#000" stroke-width="1" />
<line x1="204.5" y1="588.5" x2="255.5" y2="588.5" stroke="#000" stroke-width="1" />
<line x1="223.5" y1="560.5" x2="240.0" y2="560.5" stroke="#000" stroke-width="1" />
<line x1="194.5" y1="572.7" x2="209" y2="601.7" stroke="#555" stroke-width="0.5" />
<text x="184.5" y="581.2" font-size="3.2" textLength="3.2" lengthAdjust="spacingAndGlyphs" font-weight="bold" transform="rotate(-90 184.5 581.2)" fill="#000"  stroke="#000" stroke-width="0.26">50</text>
<line x1="184.0" y1="456.5" x2="224.5" y2="456.5" stroke="#000" stroke-width="1" />
<line x1="184.5" y1="455.0" x2="184.5" y2="459.5" stroke="#000" stroke-width="1" />
<line x1="222.5" y1="455.0" x2="222.5" y2="459.0" stroke="#000" stroke-width="1" />
<line x1="182.70000000000002" y1="454.5" x2="186.1" y2="457.9" stroke="#000" stroke-width="0.9" />
<line x1="221.0" y1="454.5" x2="224.39999999999998" y2="457.9" stroke="#000" stroke-width="0.9" />
<text x="200.9" y="455" font-size="3.8" textLength="6" lengthAdjust="spacingAndGlyphs" fill="#333"  stroke="#333" stroke-width="0.18">500</text>
<line x1="165.5" y1="464.5" x2="218.5" y2="464.5" stroke="#000" stroke-width="1" />
<line x1="196.5" y1="463.5" x2="196.5" y2="473.5" stroke="#000" stroke-width="1" />
<line x1="195.0" y1="462.8" x2="198.39999999999998" y2="466.2" stroke="#000" stroke-width="0.9" />
<text x="212.1" y="462.5" font-size="3.8" textLength="6" lengthAdjust="spacingAndGlyphs" fill="#333"  stroke="#333" stroke-width="0.18">400</text>
<line x1="201.0" y1="471.5" x2="211.0" y2="471.5" stroke="#000" stroke-width="1" />
<line x1="207.8" y1="469.7" x2="211.2" y2="473.09999999999997" stroke="#000" stroke-width="0.9" />
<line x1="231.5" y1="455.5" x2="255.5" y2="455.5" stroke="#000" stroke-width="1" />
<line x1="254.5" y1="453.0" x2="254.5" y2="588.5" stroke="#000" stroke-width="1" />
<line x1="252.60000000000002" y1="453.5" x2="256.0" y2="456.9" stroke="#000" stroke-width="0.9" />
<line x1="252.60000000000002" y1="473.7" x2="256.0" y2="477.09999999999997" stroke="#000" stroke-width="0.9" />
<line x1="252.60000000000002" y1="566.4" x2="256.0" y2="569.8000000000001" stroke="#000" stroke-width="0.9" />
<line x1="252.60000000000002" y1="586.9" x2="256.0" y2="590.3000000000001" stroke="#000" stroke-width="0.9" />
<text x="252.5" y="469" font-size="3.8" textLength="6" lengthAdjust="spacingAndGlyphs" transform="rotate(-90 252.5 469)" fill="#333"  stroke="#333" stroke-width="0.18">225</text>
<line x1="239.5" y1="475.0" x2="239.5" y2="568.0" stroke="#000" stroke-width="1" />
<line x1="238.0" y1="473.7" x2="241.39999999999998" y2="477.09999999999997" stroke="#000" stroke-width="0.9" />
<line x1="238.0" y1="480.90000000000003" x2="241.39999999999998" y2="484.3" stroke="#000" stroke-width="0.9" />
<line x1="238.0" y1="558.5999999999999" x2="241.39999999999998" y2="562.0" stroke="#000" stroke-width="0.9" />
<line x1="238.0" y1="566.4" x2="241.39999999999998" y2="569.8000000000001" stroke="#000" stroke-width="0.9" />
<text x="238.2" y="483" font-size="3.8" textLength="6" lengthAdjust="spacingAndGlyphs" transform="rotate(-90 238.2 483)" fill="#333"  stroke="#333" stroke-width="0.18">200</text>
<text x="238.2" y="518" font-size="3.8" textLength="8" lengthAdjust="spacingAndGlyphs" transform="rotate(-90 238.2 518)" fill="#333"  stroke="#333" stroke-width="0.18">1050</text>
<text x="253.3" y="535" font-size="3.8" textLength="8" lengthAdjust="spacingAndGlyphs" transform="rotate(-90 253.3 535)" fill="#333"  stroke="#333" stroke-width="0.18">1350</text>
<text x="208.8" y="523" font-size="3.8" textLength="6" lengthAdjust="spacingAndGlyphs" transform="rotate(-90 208.8 523)" fill="#333"  stroke="#333" stroke-width="0.18">200</text>
<text x="253.3" y="581.5" font-size="3.8" textLength="6" lengthAdjust="spacingAndGlyphs" transform="rotate(-90 253.3 581.5)" fill="#333"  stroke="#333" stroke-width="0.18">225</text>
<text x="239.5" y="566" font-size="3.8" textLength="6" lengthAdjust="spacingAndGlyphs" transform="rotate(-90 239.5 566)" fill="#333"  stroke="#333" stroke-width="0.18">200</text>
<rect x="215.5" y="536.5" width="15.0" height="5.0" fill="#fff" stroke="#000" stroke-width="1" />
<text x="216.5" y="540.4" font-size="3.6" textLength="13" lengthAdjust="spacingAndGlyphs" font-weight="bold" fill="#000"  stroke="#000" stroke-width="0.26">±0,000</text>
<polyline points="180.5,523.5 356.5,523.5 356.5,586.5" fill="none" stroke="#000" stroke-width="1" />
<line x1="205.5" y1="522.0" x2="205.5" y2="525.5" stroke="#000" stroke-width="1" />
<line x1="231.5" y1="522.0" x2="231.5" y2="525.5" stroke="#000" stroke-width="1" />
<line x1="257.5" y1="522.0" x2="257.5" y2="525.5" stroke="#000" stroke-width="1" />
<line x1="283.5" y1="522.0" x2="283.5" y2="525.5" stroke="#000" stroke-width="1" />
<line x1="309.5" y1="522.0" x2="309.5" y2="525.5" stroke="#000" stroke-width="1" />
<line x1="335.5" y1="522.0" x2="335.5" y2="525.5" stroke="#000" stroke-width="1" />
<line x1="355.0" y1="542.5" x2="358.5" y2="542.5" stroke="#000" stroke-width="1" />
<line x1="355.0" y1="568.5" x2="358.5" y2="568.5" stroke="#000" stroke-width="1" />
<polyline points="180.5,553.5 322.5,553.5 322.5,586.5" fill="none" stroke="#000" stroke-width="1" />
<line x1="202.5" y1="552.0" x2="202.5" y2="555.0" stroke="#000" stroke-width="1" />
<line x1="228.5" y1="552.0" x2="228.5" y2="555.0" stroke="#000" stroke-width="1" />
<line x1="254.5" y1="552.0" x2="254.5" y2="555.0" stroke="#000" stroke-width="1" />
<line x1="280.5" y1="552.0" x2="280.5" y2="555.0" stroke="#000" stroke-width="1" />
<line x1="306.5" y1="552.0" x2="306.5" y2="555.0" stroke="#000" stroke-width="1" />
<line x1="320.5" y1="570.5" x2="324.5" y2="570.5" stroke="#000" stroke-width="1" />
<text x="267.2" y="522.0" font-size="5.0" textLength="55.8" lengthAdjust="spacingAndGlyphs" font-weight="bold" fill="#000"  stroke="#000" stroke-width="0.26">KUL dvojitá plynová v. písm. PE</text>
<text x="267.2" y="552.0" font-size="5.0" textLength="55.8" lengthAdjust="spacingAndGlyphs" font-weight="bold" fill="#000"  stroke="#000" stroke-width="0.26">KUL dvojitá plynová v. písm. PE</text>
<text x="317.6" y="509.6" font-size="5.0" textLength="43.6" lengthAdjust="spacingAndGlyphs" font-weight="bold" fill="#000"  stroke="#000" stroke-width="0.26">Stávající obklad zábradlí</text>
<text x="245.3" y="495.1" font-size="5.0" textLength="54" lengthAdjust="spacingAndGlyphs" font-weight="bold" fill="#000"  stroke="#000" stroke-width="0.26">2x plachý profil VZNS PIT B/800</text>
<text x="245.3" y="500.9" font-size="5.0" textLength="86" lengthAdjust="spacingAndGlyphs" font-weight="bold" fill="#000"  stroke="#000" stroke-width="0.26">profilové ohraňovatelné lepidlo střešní stavební</text>
<text x="245.3" y="506.1" font-size="5.0" textLength="48" lengthAdjust="spacingAndGlyphs" font-weight="bold" fill="#000"  stroke="#000" stroke-width="0.26">3x150x24x1300 mm, zplošťovat</text>
<line x1="245" y1="497.2" x2="308" y2="497.2" stroke="#999" stroke-width="0.6" />
<line x1="245" y1="497.2" x2="203.8" y2="512.3" stroke="#555" stroke-width="0.5" />
<text x="209.6" y="413.2" font-size="5.0" textLength="69.3" lengthAdjust="spacingAndGlyphs" font-weight="bold" fill="#000"  stroke="#000" stroke-width="0.26">Stávající plotny 30x30 cm odbočka plotu</text>
<line x1="206.0" y1="413.5" x2="278.5" y2="413.5" stroke="#000" stroke-width="1" />
<line x1="206" y1="413.7" x2="173.7" y2="443.3" stroke="#555" stroke-width="0.5" />
<text x="245.2" y="436.2" font-size="5.0" textLength="59.8" lengthAdjust="spacingAndGlyphs" font-weight="bold" fill="#000"  stroke="#000" stroke-width="0.26">Základ ze ztraceného bednění 4/150</text>
<text x="245.2" y="443.5" font-size="5.0" textLength="56.8" lengthAdjust="spacingAndGlyphs" font-weight="bold" fill="#000"  stroke="#000" stroke-width="0.26">výplň prostým bet. vrch pod min</text>
<text x="245.2" y="446.8" font-size="5.0" textLength="15.8" lengthAdjust="spacingAndGlyphs" font-weight="bold" fill="#000"  stroke="#000" stroke-width="0.26">viz. detail</text>
<line x1="240.5" y1="438.5" x2="306.5" y2="438.5" stroke="#000" stroke-width="1" />
<line x1="240.5" y1="438.3" x2="219.6" y2="479" stroke="#555" stroke-width="0.5" />
<text x="209.4" y="602.8" font-size="5.0" textLength="62" lengthAdjust="spacingAndGlyphs" font-weight="bold" fill="#000"  stroke="#000" stroke-width="0.26">Vyvložte s mříží YTONG tl. 100 mm</text>
<text x="209.4" y="607.6" font-size="5.0" textLength="72" lengthAdjust="spacingAndGlyphs" font-weight="bold" fill="#000"  stroke="#000" stroke-width="0.26">Z akumulace vstupu z univerzální tl. 5 mm</text>
<line x1="209" y1="603.5" x2="282" y2="603.5" stroke="#999" stroke-width="0.6" />
<line x1="308.5" y1="327.0" x2="308.5" y2="651.0" stroke="#000" stroke-width="1" />
<line x1="311.5" y1="327.0" x2="311.5" y2="651.0" stroke="#000" stroke-width="1" />
<line x1="363.5" y1="327.0" x2="363.5" y2="651.0" stroke="#000" stroke-width="1" />
<line x1="367.5" y1="327.0" x2="367.5" y2="651.0" stroke="#000" stroke-width="1" />
<line x1="95.5" y1="392.0" x2="95.5" y2="492.5" stroke="#000" stroke-width="1" />
<line x1="95.5" y1="455.5" x2="114.0" y2="455.5" stroke="#000" stroke-width="1" />
<line x1="93.89999999999999" y1="453.6" x2="97.3" y2="457.0" stroke="#000" stroke-width="0.9" />
<line x1="125.5" y1="453.5" x2="125.5" y2="588.5" stroke="#000" stroke-width="1" />
<line x1="125.0" y1="455.5" x2="134.0" y2="455.5" stroke="#000" stroke-width="1" />
<line x1="125.0" y1="488.5" x2="135.5" y2="488.5" stroke="#000" stroke-width="1" />
<line x1="125.0" y1="555.5" x2="135.5" y2="555.5" stroke="#000" stroke-width="1" />
<line x1="125.0" y1="588.5" x2="134.0" y2="588.5" stroke="#000" stroke-width="1" />
<line x1="123.5" y1="453.8" x2="126.9" y2="457.2" stroke="#000" stroke-width="0.9" />
<line x1="123.5" y1="486.6" x2="126.9" y2="490.0" stroke="#000" stroke-width="0.9" />
<line x1="123.5" y1="553.3" x2="126.9" y2="556.7" stroke="#000" stroke-width="0.9" />
<line x1="123.5" y1="586.6999999999999" x2="126.9" y2="590.1" stroke="#000" stroke-width="0.9" />
<line x1="140.9" y1="464.3" x2="144.29999999999998" y2="467.7" stroke="#000" stroke-width="0.9" />
<line x1="140.9" y1="575.5" x2="144.29999999999998" y2="578.9000000000001" stroke="#000" stroke-width="0.9" />
<text x="123.5" y="474" font-size="3.8" textLength="6" lengthAdjust="spacingAndGlyphs" transform="rotate(-90 123.5 474)" fill="#333"  stroke="#333" stroke-width="0.18">400</text>
<text x="123.5" y="524" font-size="3.8" textLength="6" lengthAdjust="spacingAndGlyphs" transform="rotate(-90 123.5 524)" fill="#333"  stroke="#333" stroke-width="0.18">800</text>
<text x="123.5" y="574" font-size="3.8" textLength="6" lengthAdjust="spacingAndGlyphs" transform="rotate(-90 123.5 574)" fill="#333"  stroke="#333" stroke-width="0.18">400</text>
<text x="131.5" y="540" font-size="4.2" textLength="36" lengthAdjust="spacingAndGlyphs" transform="rotate(-90 131.5 540)" fill="#222" stroke="#222" stroke-width="0.15">Chránička 900/300 (300)</text>
<text x="140.5" y="568" font-size="4.4" textLength="92" lengthAdjust="spacingAndGlyphs" font-weight="bold" transform="rotate(-90 140.5 568)" fill="#000"  stroke="#000" stroke-width="0.26">1500 – 2x L 50x50x5, vzdáleny, v hmoždinkách zdivo</text>
<polyline points="87.5,492.5 107.5,492.5 107.5,490.5 110.5,490.5 110.5,492.5 133.5,492.5 133.5,490.5 136.5,490.5 136.5,492.5 155.5,492.5" fill="none" stroke="#000" stroke-width="1" />
<text x="91.2" y="488.4" font-size="5.0" textLength="27" lengthAdjust="spacingAndGlyphs" font-weight="bold" fill="#000"  stroke="#000" stroke-width="0.26">PE přípojka PE</text>
<rect x="112.5" y="544.5" width="15.0" height="4.0" fill="#fff" stroke="#000" stroke-width="1" />
<text x="114" y="548" font-size="3.8" textLength="12" lengthAdjust="spacingAndGlyphs" font-weight="bold" fill="#000"  stroke="#000" stroke-width="0.26">±0,000</text>
<text x="69" y="602.5" font-size="4.2" textLength="54.8" lengthAdjust="spacingAndGlyphs" font-weight="bold" fill="#000"  stroke="#000" stroke-width="0.26">500 – pozn. dle mříží (v cm)</text>
<text x="74.4" y="607.8" font-size="4.2" textLength="42.7" lengthAdjust="spacingAndGlyphs" font-weight="bold" fill="#000"  stroke="#000" stroke-width="0.26">viz. detail v řezu "C"</text>
<line x1="25.5" y1="609.5" x2="125.0" y2="609.5" stroke="#000" stroke-width="1" />
<line x1="27.5" y1="597.5" x2="27.5" y2="610.0" stroke="#000" stroke-width="1" />
<line x1="64.5" y1="597.5" x2="64.5" y2="610.0" stroke="#000" stroke-width="1" />
<line x1="25.900000000000002" y1="607.6999999999999" x2="29.3" y2="611.1" stroke="#000" stroke-width="0.9" />
<line x1="62.8" y1="607.6999999999999" x2="66.2" y2="611.1" stroke="#000" stroke-width="0.9" />
<text x="89.2" y="450.4" font-size="4.8" textLength="57.3" lengthAdjust="spacingAndGlyphs" font-weight="bold" transform="rotate(-90 89.2 450.4)" fill="#000"  stroke="#000" stroke-width="0.26">KUL plynová přípojka min 300 mm</text>
<text x="93.6" y="438" font-size="4.2" textLength="34.5" lengthAdjust="spacingAndGlyphs" transform="rotate(-90 93.6 438)" fill="#333" >ref. pro 30x30 cm</text>
<line x1="93.0" y1="431.5" x2="95.5" y2="431.5" stroke="#000" stroke-width="1" />
<text x="9.3" y="457.0" font-size="5.2" textLength="57" lengthAdjust="spacingAndGlyphs" font-weight="bold" fill="#000"  stroke="#000" stroke-width="0.26">Detail základu – ztracené bednění</text>
<line x1="26.5" y1="469.5" x2="67.0" y2="469.5" stroke="#000" stroke-width="1" />
<line x1="27.5" y1="467.0" x2="27.5" y2="480.0" stroke="#000" stroke-width="1" />
<line x1="64.5" y1="467.0" x2="64.5" y2="480.0" stroke="#000" stroke-width="1" />
<line x1="25.5" y1="467.5" x2="28.9" y2="470.9" stroke="#000" stroke-width="0.9" />
<line x1="62.7" y1="467.5" x2="66.10000000000001" y2="470.9" stroke="#000" stroke-width="0.9" />
<text x="43.3" y="467.5" font-size="3.8" textLength="5.6" lengthAdjust="spacingAndGlyphs" fill="#333"  stroke="#333" stroke-width="0.18">500</text>
<polygon points="27.5,475.5 64.5,475.5 64.5,486.5 38.5,486.5 38.5,557.5 64.5,557.5 64.5,568.5 27.5,568.5" fill="url(#dh)" stroke="#000" stroke-width="1" />
<line x1="34.5" y1="475.0" x2="34.5" y2="569.0" stroke="#000" stroke-width="1" />
<rect x="30.5" y="477.5" width="12.0" height="7.0" fill="none" stroke="#000" stroke-width="1" />
<rect x="31.6" y="479.1" width="9.699999999999996" height="3.7999999999999545" fill="none" stroke="#000" stroke-width="0.6" />
<circle cx="36.45" cy="481.0" r="0.6" fill="#000"/>
<rect x="49.5" y="477.5" width="11.0" height="7.0" fill="none" stroke="#000" stroke-width="1" />
<rect x="51.1" y="479.1" width="8.0" height="3.7999999999999545" fill="none" stroke="#000" stroke-width="0.6" />
<circle cx="55.1" cy="481.0" r="0.6" fill="#000"/>
<rect x="29.5" y="493.5" width="7.0" height="15.0" fill="none" stroke="#000" stroke-width="1" />
<rect x="30.8" y="495.2" width="4.599999999999998" height="12.199999999999989" fill="none" stroke="#000" stroke-width="0.6" />
<circle cx="33.1" cy="501.29999999999995" r="0.6" fill="#000"/>
<rect x="29.5" y="515.5" width="7.0" height="15.0" fill="none" stroke="#000" stroke-width="1" />
<rect x="30.8" y="517.2" width="4.599999999999998" height="12.199999999999932" fill="none" stroke="#000" stroke-width="0.6" />
<circle cx="33.1" cy="523.3" r="0.6" fill="#000"/>
<rect x="29.5" y="534.5" width="7.0" height="13.0" fill="none" stroke="#000" stroke-width="1" />
<rect x="30.8" y="535.8" width="4.599999999999998" height="10.5" fill="none" stroke="#000" stroke-width="0.6" />
<circle cx="33.1" cy="541.05" r="0.6" fill="#000"/>
<rect x="31.5" y="478.5" width="6.0" height="12.0" fill="none" stroke="#000" stroke-width="1" />
<rect x="32.5" y="480.0" width="3.799999999999997" height="8.800000000000011" fill="none" stroke="#000" stroke-width="0.6" />
<circle cx="34.4" cy="484.4" r="0.6" fill="#000"/>
<rect x="29.5" y="553.5" width="7.0" height="12.0" fill="none" stroke="#000" stroke-width="1" />
<rect x="30.8" y="555.2" width="4.599999999999998" height="8.799999999999955" fill="none" stroke="#000" stroke-width="0.6" />
<circle cx="33.1" cy="559.6" r="0.6" fill="#000"/>
<rect x="30.5" y="559.5" width="12.0" height="7.0" fill="none" stroke="#000" stroke-width="1" />
<rect x="31.6" y="560.8" width="9.699999999999996" height="3.7000000000000455" fill="none" stroke="#000" stroke-width="0.6" />
<circle cx="36.45" cy="562.65" r="0.6" fill="#000"/>
<rect x="49.5" y="559.5" width="11.0" height="7.0" fill="none" stroke="#000" stroke-width="1" />
<rect x="51.1" y="560.8" width="8.0" height="3.7000000000000455" fill="none" stroke="#000" stroke-width="0.6" />
<circle cx="55.1" cy="562.65" r="0.6" fill="#000"/>
<text x="59" y="505.3" font-size="5.0" textLength="54.3" lengthAdjust="spacingAndGlyphs" font-weight="bold" fill="#000"  stroke="#000" stroke-width="0.26">Ztracené bednění pásové, výplň prostým</text>
<text x="58.5" y="509.7" font-size="5.0" textLength="43.8" lengthAdjust="spacingAndGlyphs" font-weight="bold" fill="#000"  stroke="#000" stroke-width="0.26">betonové Ø 150 kde síla tl. 5 mm</text>
<line x1="59.0" y1="506.5" x2="115.0" y2="506.5" stroke="#aaa" stroke-width="0.6" />
<line x1="58.2" y1="506.3" x2="39" y2="518" stroke="#555" stroke-width="0.5" />
<line x1="58.2" y1="506.3" x2="39" y2="529" stroke="#555" stroke-width="0.5" />
<line x1="5.5" y1="474.0" x2="5.5" y2="569.0" stroke="#000" stroke-width="1" />
<line x1="3.0" y1="475.5" x2="10.0" y2="475.5" stroke="#000" stroke-width="1" />
<line x1="3.8" y1="473.7" x2="7.2" y2="477.09999999999997" stroke="#000" stroke-width="0.9" />
<line x1="3.0" y1="512.5" x2="10.0" y2="512.5" stroke="#000" stroke-width="1" />
<line x1="3.8" y1="511.00000000000006" x2="7.2" y2="514.4000000000001" stroke="#000" stroke-width="0.9" />
<line x1="3.0" y1="549.5" x2="10.0" y2="549.5" stroke="#000" stroke-width="1" />
<line x1="3.8" y1="547.5" x2="7.2" y2="550.9000000000001" stroke="#000" stroke-width="0.9" />
<line x1="3.0" y1="568.5" x2="10.0" y2="568.5" stroke="#000" stroke-width="1" />
<line x1="3.8" y1="567.0999999999999" x2="7.2" y2="570.5" stroke="#000" stroke-width="0.9" />
<text x="4" y="497" font-size="3.8" textLength="6" lengthAdjust="spacingAndGlyphs" transform="rotate(-90 4 497)" fill="#333"  stroke="#333" stroke-width="0.18">500</text>
<text x="4" y="534" font-size="3.8" textLength="6" lengthAdjust="spacingAndGlyphs" transform="rotate(-90 4 534)" fill="#333"  stroke="#333" stroke-width="0.18">500</text>
<text x="4" y="562" font-size="3.8" textLength="6" lengthAdjust="spacingAndGlyphs" transform="rotate(-90 4 562)" fill="#333"  stroke="#333" stroke-width="0.18">250</text>
<line x1="14.5" y1="474.0" x2="14.5" y2="569.0" stroke="#000" stroke-width="1" />
<line x1="12.5" y1="475.5" x2="20.5" y2="475.5" stroke="#000" stroke-width="1" />
<line x1="12.700000000000001" y1="473.7" x2="16.1" y2="477.09999999999997" stroke="#000" stroke-width="0.9" />
<line x1="12.5" y1="493.5" x2="20.5" y2="493.5" stroke="#000" stroke-width="1" />
<line x1="12.700000000000001" y1="491.40000000000003" x2="16.1" y2="494.8" stroke="#000" stroke-width="0.9" />
<line x1="12.5" y1="531.5" x2="20.5" y2="531.5" stroke="#000" stroke-width="1" />
<line x1="12.700000000000001" y1="529.8" x2="16.1" y2="533.2" stroke="#000" stroke-width="0.9" />
<line x1="12.5" y1="568.5" x2="20.5" y2="568.5" stroke="#000" stroke-width="1" />
<line x1="12.700000000000001" y1="567.0999999999999" x2="16.1" y2="570.5" stroke="#000" stroke-width="0.9" />
<text x="13" y="487" font-size="3.8" textLength="6" lengthAdjust="spacingAndGlyphs" transform="rotate(-90 13 487)" fill="#333"  stroke="#333" stroke-width="0.18">350</text>
<text x="13" y="515" font-size="3.8" textLength="6" lengthAdjust="spacingAndGlyphs" transform="rotate(-90 13 515)" fill="#333"  stroke="#333" stroke-width="0.18">550</text>
<text x="13" y="543" font-size="3.8" textLength="6" lengthAdjust="spacingAndGlyphs" transform="rotate(-90 13 543)" fill="#333"  stroke="#333" stroke-width="0.18">350</text>
<line x1="77.5" y1="474.0" x2="77.5" y2="569.5" stroke="#000" stroke-width="1" />
<line x1="70.5" y1="475.5" x2="78.5" y2="475.5" stroke="#000" stroke-width="1" />
<line x1="75.8" y1="473.40000000000003" x2="79.2" y2="476.8" stroke="#000" stroke-width="0.9" />
<line x1="70.5" y1="486.5" x2="78.5" y2="486.5" stroke="#000" stroke-width="1" />
<line x1="75.8" y1="485.2" x2="79.2" y2="488.59999999999997" stroke="#000" stroke-width="0.9" />
<line x1="70.5" y1="557.5" x2="78.5" y2="557.5" stroke="#000" stroke-width="1" />
<line x1="75.8" y1="555.4" x2="79.2" y2="558.8000000000001" stroke="#000" stroke-width="0.9" />
<line x1="70.5" y1="568.5" x2="78.5" y2="568.5" stroke="#000" stroke-width="1" />
<line x1="75.8" y1="567.1999999999999" x2="79.2" y2="570.6" stroke="#000" stroke-width="0.9" />
<text x="76" y="484" font-size="3.8" textLength="6" lengthAdjust="spacingAndGlyphs" transform="rotate(-90 76 484)" fill="#333"  stroke="#333" stroke-width="0.18">150</text>
<text x="76" y="526" font-size="3.8" textLength="6.5" lengthAdjust="spacingAndGlyphs" transform="rotate(-90 76 526)" fill="#333"  stroke="#333" stroke-width="0.18">800</text>
<text x="76" y="566" font-size="3.8" textLength="6" lengthAdjust="spacingAndGlyphs" transform="rotate(-90 76 566)" fill="#333"  stroke="#333" stroke-width="0.18">150</text>
<line x1="26.0" y1="579.5" x2="65.5" y2="579.5" stroke="#000" stroke-width="1" />
<line x1="27.5" y1="569.0" x2="27.5" y2="581.0" stroke="#000" stroke-width="1" />
<line x1="25.400000000000002" y1="577.8" x2="28.8" y2="581.2" stroke="#000" stroke-width="0.9" />
<line x1="38.5" y1="569.0" x2="38.5" y2="581.0" stroke="#000" stroke-width="1" />
<line x1="36.9" y1="577.8" x2="40.300000000000004" y2="581.2" stroke="#000" stroke-width="0.9" />
<line x1="64.5" y1="569.0" x2="64.5" y2="581.0" stroke="#000" stroke-width="1" />
<line x1="63.099999999999994" y1="577.8" x2="66.5" y2="581.2" stroke="#000" stroke-width="0.9" />
<text x="29.3" y="578" font-size="3.8" textLength="6.7" lengthAdjust="spacingAndGlyphs" fill="#333"  stroke="#333" stroke-width="0.18">150</text>
<text x="48.7" y="578" font-size="3.8" textLength="6" lengthAdjust="spacingAndGlyphs" fill="#333"  stroke="#333" stroke-width="0.18">350</text>
<text transform="translate(397.4,237.6) scale(0.74,1)" x="0" y="0" font-size="6.6" textLength="179.46" lengthAdjust="spacingAndGlyphs" stroke="#000" stroke-width="0.25">Stavební řešení přístřešku pro HUP OPZ a plynoměry</text>
<text transform="translate(397.4,247) scale(0.74,1)" x="0" y="0" font-size="6.6" textLength="193.51" lengthAdjust="spacingAndGlyphs" stroke="#000" stroke-width="0.25">a postup prací v návaznosti na přípojku plynové přípojky</text>
<text transform="translate(401.9,256.8) scale(0.66,1)" x="0" y="0" font-size="5.5" font-weight="bold" textLength="294.39" lengthAdjust="spacingAndGlyphs" fill="#000" stroke="#000" stroke-width="0.16">10 provozovatele Ø přístupný plynoměry návaznosti z přípojky profilů větracími postup odvodněna základ HUP plyn</text>
<text transform="translate(397.2,261.43) scale(0.66,1)" x="0" y="0" font-size="5.5" font-weight="bold" textLength="301.06" lengthAdjust="spacingAndGlyphs" fill="#000" stroke="#000" stroke-width="0.16">patek zabetonované prací bednění plynové plechu do postup uzamykatelná budou ze HUP HUP větracími postup s větrac</text>
<text transform="translate(397.2,266.06) scale(0.66,1)" x="0" y="0" font-size="5.5" font-weight="bold" textLength="300.15" lengthAdjust="spacingAndGlyphs" fill="#000" stroke="#000" stroke-width="0.16">Ø plynoměry ze OPZ dvířka podle tvoří zabetonované požadavku pozinkovaného budou s deska dvířka plynoměr bude vni</text>
<text transform="translate(397.2,270.69) scale(0.66,1)" x="0" y="0" font-size="5.5" font-weight="bold" textLength="293.64" lengthAdjust="spacingAndGlyphs" fill="#000" stroke="#000" stroke-width="0.16">větracími s musí osazena sloupky přípojky plechu výšce prací uzamykatelná postup 1775 betonový střecha plynomě</text>
<text transform="translate(397.2,275.32) scale(0.66,1)" x="0" y="0" font-size="5.5" font-weight="bold" textLength="301.06" lengthAdjust="spacingAndGlyphs" fill="#000" stroke="#000" stroke-width="0.16">z do tl. povrchová větracími mm profilů polykarbonátová výplň bude osazen výplň přípojku s polykarbonátová okapni</text>
<text transform="translate(397.2,279.95) scale(0.66,1)" x="0" y="0" font-size="5.5" font-weight="bold" textLength="300.15" lengthAdjust="spacingAndGlyphs" fill="#000" stroke="#000" stroke-width="0.16">střecha kotvená mm 800 přístřešku ČSN návaznosti budou do zabetonované soustavy kotvená provozovatele zinkováním</text>
<text transform="translate(397.2,284.58) scale(0.66,1)" x="0" y="0" font-size="5.5" font-weight="bold" textLength="240.61" lengthAdjust="spacingAndGlyphs" fill="#000" stroke="#000" stroke-width="0.16">zabetonované OPZ veřejného návaznosti dvířka s tl. kotvená G4 do dle střecha větracími mm</text>
<text transform="translate(402.4,289.21) scale(0.66,1)" x="0" y="0" font-size="5.5" font-weight="bold" textLength="292.27" lengthAdjust="spacingAndGlyphs" fill="#000" stroke="#000" stroke-width="0.16">prací plynové vrchní úprava osazen veřejného prací postup mm osazen deska být s plynoměr 800 přístřešku výšce</text>
<text transform="translate(397.2,293.84) scale(0.66,1)" x="0" y="0" font-size="5.5" font-weight="bold" textLength="288.33" lengthAdjust="spacingAndGlyphs" fill="#000" stroke="#000" stroke-width="0.16">trubek veřejného do přístřešku povrchová ocelových soustavy EN otvory střecha postup základ přístřešku zazdě</text>
<text transform="translate(397.2,298.46999999999997) scale(0.66,1)" x="0" y="0" font-size="5.5" font-weight="bold" textLength="298.94" lengthAdjust="spacingAndGlyphs" fill="#000" stroke="#000" stroke-width="0.16">nad výplň Ø Ø střecha přípojku soustavy 800 60 plechu část podle patek plechu část ve zabetonované ocelových ply</text>
<text transform="translate(397.2,303.09999999999997) scale(0.66,1)" x="0" y="0" font-size="5.5" font-weight="bold" textLength="147.58" lengthAdjust="spacingAndGlyphs" fill="#000" stroke="#000" stroke-width="0.16">z ztraceného provozovatele přípojku skříň provozovatele</text>
<text transform="translate(401.8,311.3) scale(0.66,1)" x="0" y="0" font-size="5.5" font-weight="bold" textLength="278.79" lengthAdjust="spacingAndGlyphs" fill="#000" stroke="#000" stroke-width="0.16">ztraceného z ztraceného řešení zinkováním otvory bude betonem přístřešku stavební požadavku zabetonované</text>
<text transform="translate(397.2,315.97) scale(0.66,1)" x="0" y="0" font-size="5.5" font-weight="bold" textLength="292.73" lengthAdjust="spacingAndGlyphs" fill="#000" stroke="#000" stroke-width="0.16">z sloupky EN uzamykatelná tl. zazděny G4 do 1775 přístupný prostranství nad plynoměry mm plynoměr dvířka Ø Ø 6</text>
<text transform="translate(397.2,320.64) scale(0.66,1)" x="0" y="0" font-size="5.5" font-weight="bold" textLength="303.64" lengthAdjust="spacingAndGlyphs" fill="#000" stroke="#000" stroke-width="0.16">Ø vnitřní žárovým musí 60 postup osazena prací betonový hloubky distribuční otvory kotvená dle plynoměry vnitřní s</text>
<text transform="translate(397.2,325.31) scale(0.66,1)" x="0" y="0" font-size="5.5" font-weight="bold" textLength="175.76" lengthAdjust="spacingAndGlyphs" fill="#000" stroke="#000" stroke-width="0.16">uzamykatelná provozovatele z přípojky profilů EN pro návaznosti be</text>
<text transform="translate(403.6,329.98) scale(0.66,1)" x="0" y="0" font-size="5.5" font-weight="bold" textLength="293.94" lengthAdjust="spacingAndGlyphs" fill="#000" stroke="#000" stroke-width="0.16">EN z provozovatele musí prostým do ČSN profilů úprava budou otvory zinkováním povrchová žárovým žárovým deska</text>
<text transform="translate(397.2,334.65000000000003) scale(0.66,1)" x="0" y="0" font-size="5.5" font-weight="bold" textLength="302.27" lengthAdjust="spacingAndGlyphs" fill="#000" stroke="#000" stroke-width="0.16">přípojku požadavku vnitřní terénem kotvená nad betonem žárovým G4 distribuční terénu přístřešku betonový okapnice</text>
<text transform="translate(397.2,339.32) scale(0.66,1)" x="0" y="0" font-size="5.5" font-weight="bold" textLength="309.24" lengthAdjust="spacingAndGlyphs" fill="#000" stroke="#000" stroke-width="0.16">profilů požadavku G4 pozinkovaného pro okapnice polykarbonátová být plynové osazen betonem terénu profilů soustavy o</text>
<text transform="translate(397.2,343.99) scale(0.66,1)" x="0" y="0" font-size="5.5" font-weight="bold" textLength="299.7" lengthAdjust="spacingAndGlyphs" fill="#000" stroke="#000" stroke-width="0.16">ze z pozinkovaného odvodněna mm musí ze EN osazena bednění 60 nad ztraceného na terénu střecha ocelových mm pro p</text>
<text transform="translate(397.2,348.66) scale(0.66,1)" x="0" y="0" font-size="5.5" font-weight="bold" textLength="86.67" lengthAdjust="spacingAndGlyphs" fill="#000" stroke="#000" stroke-width="0.16">část úprava betonem osazena G4 Č</text>
<text transform="translate(402,353.33) scale(0.66,1)" x="0" y="0" font-size="5.5" font-weight="bold" textLength="284.09" lengthAdjust="spacingAndGlyphs" fill="#000" stroke="#000" stroke-width="0.16">do 800 900 do profilů přípojku ze vnitřní ztraceného úprava na kotvená betonový žárovým 1775 EN stavební žá</text>
<text transform="translate(397.2,358.0) scale(0.66,1)" x="0" y="0" font-size="5.5" font-weight="bold" textLength="287.12" lengthAdjust="spacingAndGlyphs" fill="#000" stroke="#000" stroke-width="0.16">přístupný do být přípojku z budou trubek výšce na žárovým skříň patek musí mm plynové 900 Ø povrchová 60 ter</text>
<text transform="translate(402,362.67) scale(0.66,1)" x="0" y="0" font-size="5.5" font-weight="bold" textLength="286.82" lengthAdjust="spacingAndGlyphs" fill="#000" stroke="#000" stroke-width="0.16">přípojku 900 distribuční soustavy zazděny pro provozovatele otvory povrchová přístupný požadavku EN dle úpra</text>
<text transform="translate(397.2,367.34000000000003) scale(0.66,1)" x="0" y="0" font-size="5.5" font-weight="bold" textLength="292.73" lengthAdjust="spacingAndGlyphs" fill="#000" stroke="#000" stroke-width="0.16">z do provozovatele plechu plechu zazděny přístřešku řešení 900 přístupný vnitřní okapnice terénem podle patek</text>
<text transform="translate(397.2,372.01) scale(0.66,1)" x="0" y="0" font-size="5.5" font-weight="bold" textLength="13.79" lengthAdjust="spacingAndGlyphs" fill="#000" stroke="#000" stroke-width="0.16">osaze</text>
<text transform="translate(403,376.68) scale(0.66,1)" x="0" y="0" font-size="5.5" font-weight="bold" textLength="294.85" lengthAdjust="spacingAndGlyphs" fill="#000" stroke="#000" stroke-width="0.16">základ pro prostým základ tvoří odvodněna bednění otvory 10 betonem pozinkovaného zabetonované zazděny postup n</text>
<text transform="translate(397.2,381.35) scale(0.66,1)" x="0" y="0" font-size="5.5" font-weight="bold" textLength="302.27" lengthAdjust="spacingAndGlyphs" fill="#000" stroke="#000" stroke-width="0.16">ocelových mm z větracími terénu zabetonované odvodněna zazděny z provozovatele okapnice do přístřešku hloubky bude</text>
<text transform="translate(397.2,386.02000000000004) scale(0.66,1)" x="0" y="0" font-size="5.5" font-weight="bold" textLength="300.91" lengthAdjust="spacingAndGlyphs" fill="#000" stroke="#000" stroke-width="0.16">ČSN stavební provozovatele skříň požadavku úprava 1775 900 budou dvířka postup 10 plynoměr terénu okapnice dvířka</text>
<text transform="translate(397.2,390.69) scale(0.66,1)" x="0" y="0" font-size="5.5" font-weight="bold" textLength="300.91" lengthAdjust="spacingAndGlyphs" fill="#000" stroke="#000" stroke-width="0.16">žárovým vnitřní dvířka postup výplň osazena část OPZ přípojky odvodněna 800 dvířka pro prací hloubky 10 EN odvodn</text>
<text transform="translate(397.2,395.36) scale(0.66,1)" x="0" y="0" font-size="5.5" font-weight="bold" textLength="261.06" lengthAdjust="spacingAndGlyphs" fill="#000" stroke="#000" stroke-width="0.16">ČSN do na G4 část 800 do z žárovým odvodněna výplň osazen terénu betonem dvířka na 800 podle zabet</text>
<text transform="translate(401.8,400.03000000000003) scale(0.66,1)" x="0" y="0" font-size="5.5" font-weight="bold" textLength="289.85" lengthAdjust="spacingAndGlyphs" fill="#000" stroke="#000" stroke-width="0.16">budou Ø hloubky tl. návaznosti veřejného bednění do návaznosti základ veřejného polykarbonátová budou provozo</text>
<text transform="translate(397.2,404.7) scale(0.66,1)" x="0" y="0" font-size="5.5" font-weight="bold" textLength="306.36" lengthAdjust="spacingAndGlyphs" fill="#000" stroke="#000" stroke-width="0.16">výšce být z profilů požadavku prostým podle povrchová ze terénem přípojky Ø zinkováním distribuční veřejného ze dis</text>
<text transform="translate(397.2,409.37) scale(0.66,1)" x="0" y="0" font-size="5.5" font-weight="bold" textLength="55.15" lengthAdjust="spacingAndGlyphs" fill="#000" stroke="#000" stroke-width="0.16">ve patek do 60 kotve</text>
<text transform="translate(401.8,417.9) scale(0.66,1)" x="0" y="0" font-size="5.5" font-weight="bold" textLength="285.76" lengthAdjust="spacingAndGlyphs" fill="#000" stroke="#000" stroke-width="0.16">zabetonované na ocelových tl. plynové 900 profilů přístřešku kotvená plechu mm hloubky ve přístřešku trubek</text>
<text transform="translate(397.2,422.59999999999997) scale(0.66,1)" x="0" y="0" font-size="5.5" font-weight="bold" textLength="296.82" lengthAdjust="spacingAndGlyphs" fill="#000" stroke="#000" stroke-width="0.16">mm terénu 1775 tvoří do prací otvory ztraceného vnitřní přípojku betonem vrchní OPZ bude vrchní zazděny do pros</text>
<text transform="translate(397.2,427.29999999999995) scale(0.66,1)" x="0" y="0" font-size="5.5" font-weight="bold" textLength="309.24" lengthAdjust="spacingAndGlyphs" fill="#000" stroke="#000" stroke-width="0.16">betonem 60 provozovatele z do s střecha osazen 10 plynové část postup G4 bude do návaznosti vrchní přístřešku musí p</text>
<text transform="translate(397.2,432.0) scale(0.66,1)" x="0" y="0" font-size="5.5" font-weight="bold" textLength="299.55" lengthAdjust="spacingAndGlyphs" fill="#000" stroke="#000" stroke-width="0.16">betonem přípojku ČSN ze prací betonem budou mm řešení kotvená plechu zabetonované vrchní 1775 zazděny OPZ okapni</text>
<text transform="translate(397.2,436.7) scale(0.66,1)" x="0" y="0" font-size="5.5" font-weight="bold" textLength="290.0" lengthAdjust="spacingAndGlyphs" fill="#000" stroke="#000" stroke-width="0.16">ve bednění otvory distribuční betonem plynoměry bude na deska HUP deska okapnice betonový tvoří 800 odvodněna</text>
<text transform="translate(397.2,441.4) scale(0.66,1)" x="0" y="0" font-size="5.5" font-weight="bold" textLength="120.91" lengthAdjust="spacingAndGlyphs" fill="#000" stroke="#000" stroke-width="0.16">prostranství skříň vrchní do přístřešku prost</text>
<text x="384" y="452.2" font-size="5.2" textLength="54.9" lengthAdjust="spacingAndGlyphs" font-weight="bold" fill="#000"  stroke="#000" stroke-width="0.26">Detail stěny – dělení přístřešku</text>
<line x1="384.5" y1="460.5" x2="421.5" y2="460.5" stroke="#000" stroke-width="1" />
<line x1="384.7" y1="458.90000000000003" x2="388.09999999999997" y2="462.3" stroke="#000" stroke-width="0.9" />
<line x1="417.8" y1="458.90000000000003" x2="421.2" y2="462.3" stroke="#000" stroke-width="0.9" />
<text x="400.5" y="458.6" font-size="3.2" textLength="5.5" lengthAdjust="spacingAndGlyphs" fill="#333"  stroke="#333" stroke-width="0.18">450</text>
<line x1="384.5" y1="468.5" x2="421.5" y2="468.5" stroke="#000" stroke-width="1" />
<line x1="384.7" y1="466.6" x2="388.09999999999997" y2="470.0" stroke="#000" stroke-width="0.9" />
<line x1="395.6" y1="466.6" x2="399.0" y2="470.0" stroke="#000" stroke-width="0.9" />
<line x1="406.6" y1="466.6" x2="410.0" y2="470.0" stroke="#000" stroke-width="0.9" />
<line x1="417.8" y1="466.6" x2="421.2" y2="470.0" stroke="#000" stroke-width="0.9" />
<text x="389.5" y="466.3" font-size="3.2" textLength="5" lengthAdjust="spacingAndGlyphs" fill="#333"  stroke="#333" stroke-width="0.18">150</text>
<text x="400.5" y="466.3" font-size="3.2" textLength="5" lengthAdjust="spacingAndGlyphs" fill="#333"  stroke="#333" stroke-width="0.18">150</text>
<text x="411.5" y="466.3" font-size="3.2" textLength="5" lengthAdjust="spacingAndGlyphs" fill="#333"  stroke="#333" stroke-width="0.18">150</text>
<line x1="386.5" y1="459.0" x2="386.5" y2="570.0" stroke="#000" stroke-width="1" />
<line x1="419.5" y1="459.0" x2="419.5" y2="570.0" stroke="#000" stroke-width="1" />
<line x1="397.5" y1="466.5" x2="397.5" y2="570.0" stroke="#000" stroke-width="1" />
<line x1="408.5" y1="466.5" x2="408.5" y2="570.0" stroke="#000" stroke-width="1" />
<line x1="386.5" y1="473.5" x2="419.5" y2="473.5" stroke="#000" stroke-width="1" />
<line x1="386.5" y1="570.5" x2="419.5" y2="570.5" stroke="#000" stroke-width="1" />
<line x1="421.0" y1="473.5" x2="431.0" y2="473.5" stroke="#000" stroke-width="1" />
<line x1="421.0" y1="570.5" x2="431.0" y2="570.5" stroke="#000" stroke-width="1" />
<line x1="430.5" y1="473.5" x2="430.5" y2="570.0" stroke="#000" stroke-width="1" />
<line x1="428.6" y1="471.8" x2="432.0" y2="475.2" stroke="#000" stroke-width="0.9" />
<line x1="428.6" y1="568.3" x2="432.0" y2="571.7" stroke="#000" stroke-width="0.9" />
<text x="429.5" y="526" font-size="3.2" textLength="8" lengthAdjust="spacingAndGlyphs" transform="rotate(-90 429.5 526)" fill="#777"  stroke="#333" stroke-width="0.18">1350</text>
<line x1="397.0" y1="476" x2="387.0" y2="566" stroke="#bbb" stroke-width="0.6" />
<rect x="396.0" y="479.1" width="1.1999999999999886" height="1.3999999999999773" fill="#000"/>
<rect x="395.1" y="487.2" width="1.1999999999999886" height="1.400000000000034" fill="#000"/>
<rect x="394.2" y="495.3" width="1.1999999999999886" height="1.3999999999999773" fill="#000"/>
<rect x="393.3" y="503.4" width="1.1999999999999886" height="1.400000000000034" fill="#000"/>
<rect x="392.4" y="511.5" width="1.2000000000000455" height="1.3999999999999773" fill="#000"/>
<rect x="391.5" y="519.6" width="1.1999999999999886" height="1.3999999999999773" fill="#000"/>
<rect x="390.6" y="527.7" width="1.1999999999999886" height="1.3999999999999773" fill="#000"/>
<rect x="389.6" y="535.8" width="1.1999999999999886" height="1.400000000000091" fill="#000"/>
<rect x="388.7" y="543.9" width="1.1999999999999886" height="1.3999999999999773" fill="#000"/>
<rect x="387.8" y="552.0" width="1.1999999999999886" height="1.3999999999999773" fill="#000"/>
<rect x="386.9" y="560.1" width="1.2000000000000455" height="1.3999999999999773" fill="#000"/>
<line x1="407.9" y1="476" x2="397.9" y2="566" stroke="#bbb" stroke-width="0.6" />
<rect x="406.9" y="479.1" width="1.2000000000000455" height="1.3999999999999773" fill="#000"/>
<rect x="406.0" y="487.2" width="1.1999999999999886" height="1.400000000000034" fill="#000"/>
<rect x="405.1" y="495.3" width="1.1999999999999886" height="1.3999999999999773" fill="#000"/>
<rect x="404.2" y="503.4" width="1.1999999999999886" height="1.400000000000034" fill="#000"/>
<rect x="403.3" y="511.5" width="1.1999999999999886" height="1.3999999999999773" fill="#000"/>
<rect x="402.4" y="519.6" width="1.2000000000000455" height="1.3999999999999773" fill="#000"/>
<rect x="401.5" y="527.7" width="1.1999999999999886" height="1.3999999999999773" fill="#000"/>
<rect x="400.5" y="535.8" width="1.1999999999999886" height="1.400000000000091" fill="#000"/>
<rect x="399.6" y="543.9" width="1.1999999999999886" height="1.3999999999999773" fill="#000"/>
<rect x="398.7" y="552.0" width="1.1999999999999886" height="1.3999999999999773" fill="#000"/>
<rect x="397.8" y="560.1" width="1.1999999999999886" height="1.3999999999999773" fill="#000"/>
<line x1="418.9" y1="476" x2="408.9" y2="566" stroke="#bbb" stroke-width="0.6" />
<rect x="417.9" y="479.1" width="1.2000000000000455" height="1.3999999999999773" fill="#000"/>
<rect x="417.0" y="487.2" width="1.1999999999999886" height="1.400000000000034" fill="#000"/>
<rect x="416.1" y="495.3" width="1.1999999999999886" height="1.3999999999999773" fill="#000"/>
<rect x="415.2" y="503.4" width="1.1999999999999886" height="1.400000000000034" fill="#000"/>
<rect x="414.3" y="511.5" width="1.1999999999999886" height="1.3999999999999773" fill="#000"/>
<rect x="413.4" y="519.6" width="1.2000000000000455" height="1.3999999999999773" fill="#000"/>
<rect x="412.5" y="527.7" width="1.1999999999999886" height="1.3999999999999773" fill="#000"/>
<rect x="411.5" y="535.8" width="1.1999999999999886" height="1.400000000000091" fill="#000"/>
<rect x="410.6" y="543.9" width="1.1999999999999886" height="1.3999999999999773" fill="#000"/>
<rect x="409.7" y="552.0" width="1.1999999999999886" height="1.3999999999999773" fill="#000"/>
<rect x="408.8" y="560.1" width="1.1999999999999886" height="1.3999999999999773" fill="#000"/>
<text transform="translate(388.7,579.4) scale(0.72,1)" x="0" y="0" font-size="5.9" textLength="175.28" lengthAdjust="spacingAndGlyphs" fill="#000" stroke="#000" stroke-width="0.3">HUP řešení přístřešku mm odvodněna plechu osazena do úprava výp</text>
<text transform="translate(383,585.6) scale(0.72,1)" x="0" y="0" font-size="5.9" textLength="184.86" lengthAdjust="spacingAndGlyphs" fill="#000" stroke="#000" stroke-width="0.3">800 vnitřní z přístupný patek z střecha pozinkovaného Ø odvodněna</text>
<text transform="translate(383,591.8) scale(0.72,1)" x="0" y="0" font-size="5.9" textLength="184.86" lengthAdjust="spacingAndGlyphs" fill="#000" stroke="#000" stroke-width="0.3">deska G4 základ ztraceného kotvená na ve mm musí podle 60 do plyno</text>
<text transform="translate(383,598.0) scale(0.72,1)" x="0" y="0" font-size="5.9" textLength="183.19" lengthAdjust="spacingAndGlyphs" fill="#000" stroke="#000" stroke-width="0.3">zazděny řešení návaznosti HUP nad prostým patek distribuční postu</text>
<text transform="translate(383,604.1999999999999) scale(0.72,1)" x="0" y="0" font-size="5.9" textLength="21.67" lengthAdjust="spacingAndGlyphs" fill="#000" stroke="#000" stroke-width="0.3">přípojk</text>
<text transform="translate(388.7,610.4) scale(0.72,1)" x="0" y="0" font-size="5.9" textLength="176.94" lengthAdjust="spacingAndGlyphs" fill="#000" stroke="#000" stroke-width="0.3">veřejného z odvodněna veřejného přístřešku dle výplň G4 tvoří O</text>
<text transform="translate(383,616.6) scale(0.72,1)" x="0" y="0" font-size="5.9" textLength="181.53" lengthAdjust="spacingAndGlyphs" fill="#000" stroke="#000" stroke-width="0.3">mm bude distribuční vrchní 800 stavební betonem profilů mm plechu</text>
<text transform="translate(383,622.8) scale(0.72,1)" x="0" y="0" font-size="5.9" textLength="152.22" lengthAdjust="spacingAndGlyphs" fill="#000" stroke="#000" stroke-width="0.3">10 výplň HUP deska základ ocelových bude stavební mm z</text>
<text transform="translate(388.7,629.0) scale(0.72,1)" x="0" y="0" font-size="5.9" textLength="182.22" lengthAdjust="spacingAndGlyphs" fill="#000" stroke="#000" stroke-width="0.3">přípojku úprava část odvodněna přístupný na výplň odvodněna stave</text>
<text transform="translate(383,635.1999999999999) scale(0.72,1)" x="0" y="0" font-size="5.9" textLength="183.19" lengthAdjust="spacingAndGlyphs" fill="#000" stroke="#000" stroke-width="0.3">plynové betonem plynové požadavku 60 otvory OPZ Ø přístřešku poly</text>
<text transform="translate(383,641.4) scale(0.72,1)" x="0" y="0" font-size="5.9" textLength="73.19" lengthAdjust="spacingAndGlyphs" fill="#000" stroke="#000" stroke-width="0.3">polykarbonátová HUP ztrace</text>
<text transform="translate(388.7,647.6) scale(0.72,1)" x="0" y="0" font-size="5.9" textLength="183.75" lengthAdjust="spacingAndGlyphs" fill="#000" stroke="#000" stroke-width="0.3">přípojku větracími okapnice provozovatele z výšce dle trubek 10 90</text>
<text transform="translate(383,653.8) scale(0.72,1)" x="0" y="0" font-size="5.9" textLength="162.5" lengthAdjust="spacingAndGlyphs" fill="#000" stroke="#000" stroke-width="0.3">střecha provozovatele přístřešku 900 1775 být požadavku OP</text>
</svg>
</body></html>
